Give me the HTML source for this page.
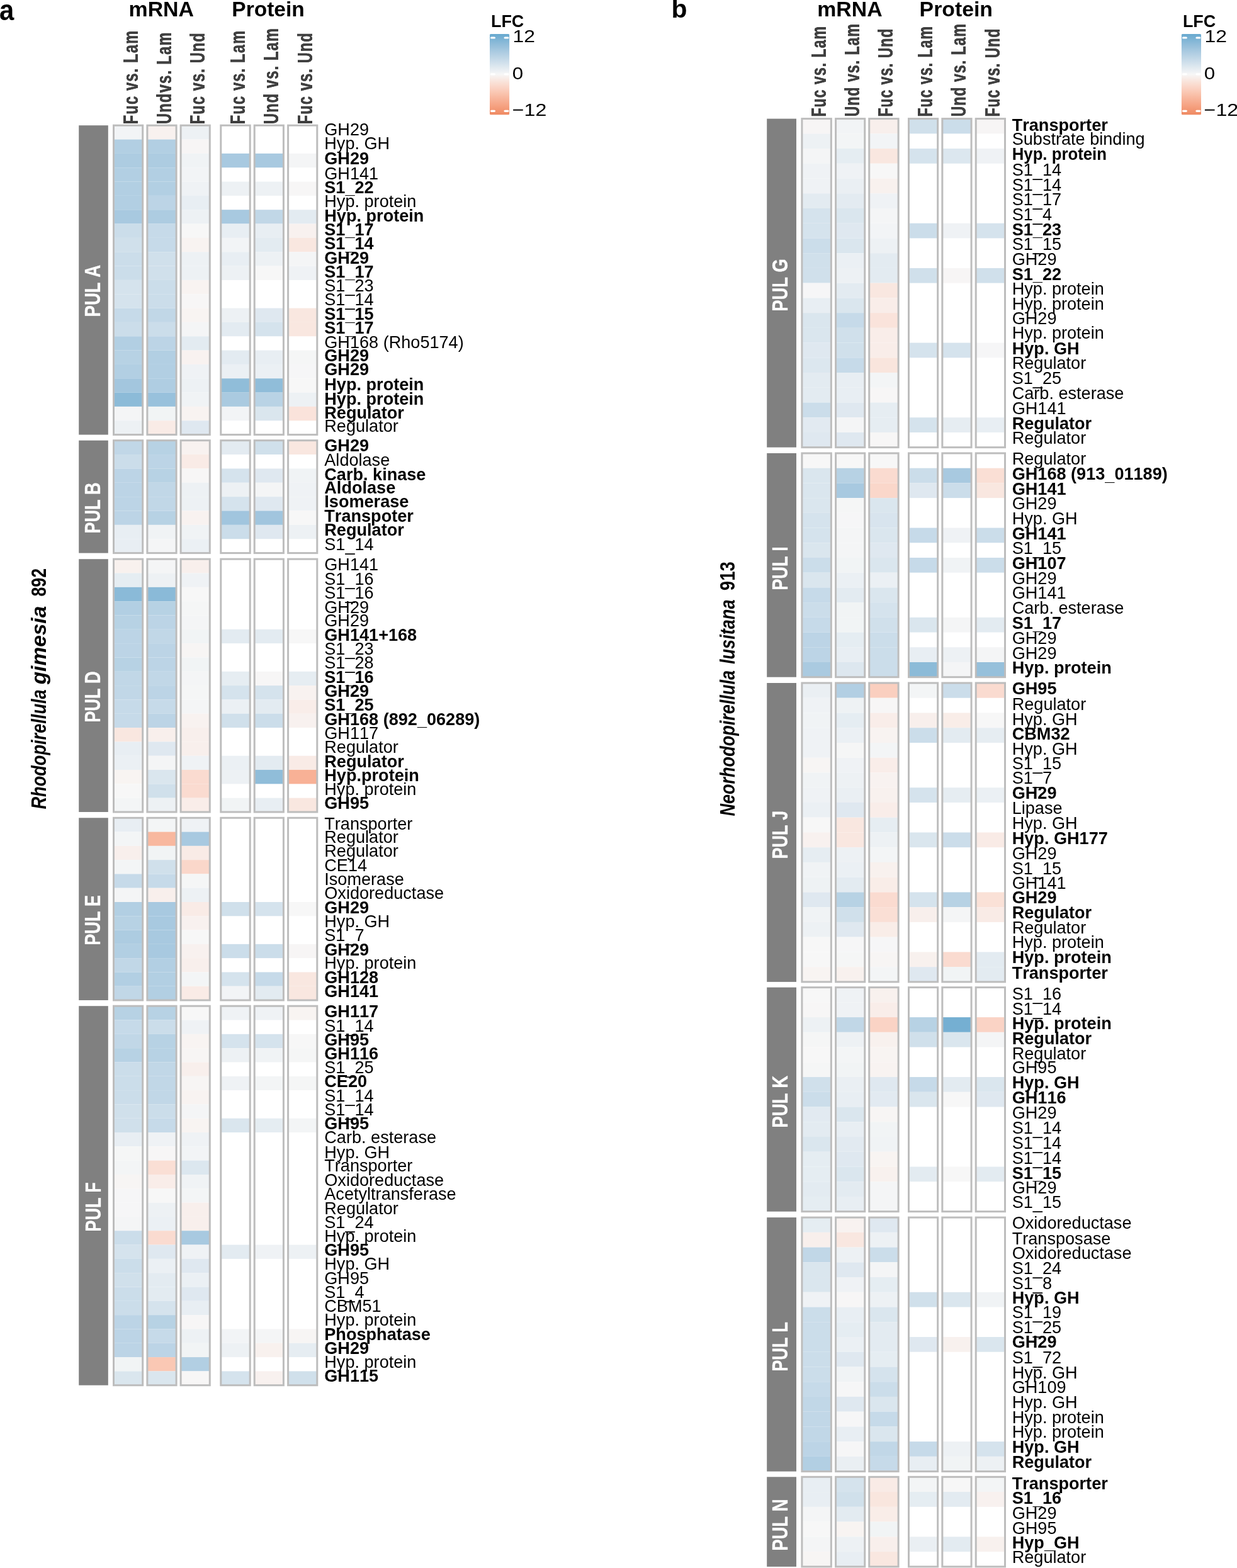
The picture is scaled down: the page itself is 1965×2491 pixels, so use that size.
<!DOCTYPE html>
<html lang="en">
<head>
<meta charset="utf-8">
<title>PUL expression heatmaps</title>
<style>
html,body{margin:0;padding:0;background:#fff;}
body{width:1965px;height:2491px;overflow:hidden;font-family:"Liberation Sans",Arial,sans-serif;}
svg{display:block;}
svg text{font-kerning:none;}
</style>
</head>
<body>
<svg width="1965" height="2491" viewBox="0 0 1965 2491" font-family="'Liberation Sans', Arial, sans-serif">
<defs><linearGradient id="lg" x1="0" y1="0" x2="0" y2="1">
<stop offset="0%" stop-color="#67a9cf"/>
<stop offset="4.17%" stop-color="#75afd2"/>
<stop offset="8.33%" stop-color="#82b6d6"/>
<stop offset="12.5%" stop-color="#8fbcd9"/>
<stop offset="16.67%" stop-color="#9bc2dc"/>
<stop offset="20.83%" stop-color="#a7c9e0"/>
<stop offset="25%" stop-color="#b3cfe3"/>
<stop offset="29.17%" stop-color="#bed6e6"/>
<stop offset="33.33%" stop-color="#cadcea"/>
<stop offset="37.5%" stop-color="#d5e3ed"/>
<stop offset="41.67%" stop-color="#e1eaf0"/>
<stop offset="45.83%" stop-color="#ecf0f4"/>
<stop offset="50%" stop-color="#f7f7f7"/>
<stop offset="54.17%" stop-color="#f8eeea"/>
<stop offset="58.33%" stop-color="#f9e5dd"/>
<stop offset="62.5%" stop-color="#fadcd0"/>
<stop offset="66.67%" stop-color="#fad3c4"/>
<stop offset="70.83%" stop-color="#facab7"/>
<stop offset="75%" stop-color="#f9c1aa"/>
<stop offset="79.17%" stop-color="#f8b79e"/>
<stop offset="83.33%" stop-color="#f7ae92"/>
<stop offset="87.5%" stop-color="#f6a586"/>
<stop offset="91.67%" stop-color="#f49c7a"/>
<stop offset="95.83%" stop-color="#f1936e"/>
<stop offset="100%" stop-color="#ef8a62"/>
</linearGradient></defs>
<rect x="0" y="0" width="1965" height="2491" fill="#fff"/>
<g>
<rect x="125.2" y="199.2" width="46.6" height="491.4" fill="#808080"/>
<text transform="translate(159 503.46) rotate(-90) scale(0.7902 1)" font-size="34.9" fill="#fff" stroke="#fff" stroke-width="0.3" xml:space="preserve"><tspan font-weight="bold">PUL A</tspan></text>
<g>
<rect x="180.5" y="199.2" width="46.2" height="491.4" fill="#fff"/>
<rect x="180.5" y="199.2" width="46.2" height="22.34" fill="#f2f4f6"/>
<rect x="180.5" y="221.54" width="46.2" height="22.34" fill="#b2cfe3"/>
<rect x="180.5" y="243.87" width="46.2" height="22.34" fill="#adcce1"/>
<rect x="180.5" y="266.21" width="46.2" height="22.34" fill="#b2cfe3"/>
<rect x="180.5" y="288.55" width="46.2" height="22.34" fill="#b2cfe3"/>
<rect x="180.5" y="310.88" width="46.2" height="22.34" fill="#b2cfe3"/>
<rect x="180.5" y="333.22" width="46.2" height="22.34" fill="#a8c9e0"/>
<rect x="180.5" y="355.55" width="46.2" height="22.34" fill="#cbddea"/>
<rect x="180.5" y="377.89" width="46.2" height="22.34" fill="#d0e0eb"/>
<rect x="180.5" y="400.23" width="46.2" height="22.34" fill="#cbddea"/>
<rect x="180.5" y="422.56" width="46.2" height="22.34" fill="#cbddea"/>
<rect x="180.5" y="444.9" width="46.2" height="22.34" fill="#d5e3ed"/>
<rect x="180.5" y="467.24" width="46.2" height="22.34" fill="#d5e3ed"/>
<rect x="180.5" y="489.57" width="46.2" height="22.34" fill="#c6dae9"/>
<rect x="180.5" y="511.91" width="46.2" height="22.34" fill="#cbddea"/>
<rect x="180.5" y="534.25" width="46.2" height="22.34" fill="#b2cfe3"/>
<rect x="180.5" y="556.58" width="46.2" height="22.34" fill="#b7d2e4"/>
<rect x="180.5" y="578.92" width="46.2" height="22.34" fill="#b2cfe3"/>
<rect x="180.5" y="601.25" width="46.2" height="22.34" fill="#a3c6de"/>
<rect x="180.5" y="623.59" width="46.2" height="22.34" fill="#8cbbd8"/>
<rect x="180.5" y="645.93" width="46.2" height="22.34" fill="#f4f5f6"/>
<rect x="180.5" y="668.26" width="46.2" height="22.34" fill="#edf1f4"/>
<rect x="180.5" y="199.2" width="46.2" height="491.4" fill="none" stroke="#bdbdbd" stroke-width="3.0"/>
</g>
<g>
<rect x="233.9" y="199.2" width="46.2" height="491.4" fill="#fff"/>
<rect x="233.9" y="199.2" width="46.2" height="22.34" fill="#f8f1ef"/>
<rect x="233.9" y="221.54" width="46.2" height="22.34" fill="#b2cfe3"/>
<rect x="233.9" y="243.87" width="46.2" height="22.34" fill="#adcce1"/>
<rect x="233.9" y="266.21" width="46.2" height="22.34" fill="#b2cfe3"/>
<rect x="233.9" y="288.55" width="46.2" height="22.34" fill="#b2cfe3"/>
<rect x="233.9" y="310.88" width="46.2" height="22.34" fill="#bcd4e6"/>
<rect x="233.9" y="333.22" width="46.2" height="22.34" fill="#adcce1"/>
<rect x="233.9" y="355.55" width="46.2" height="22.34" fill="#c6dae9"/>
<rect x="233.9" y="377.89" width="46.2" height="22.34" fill="#c6dae9"/>
<rect x="233.9" y="400.23" width="46.2" height="22.34" fill="#d0e0eb"/>
<rect x="233.9" y="422.56" width="46.2" height="22.34" fill="#d0e0eb"/>
<rect x="233.9" y="444.9" width="46.2" height="22.34" fill="#cbddea"/>
<rect x="233.9" y="467.24" width="46.2" height="22.34" fill="#cbddea"/>
<rect x="233.9" y="489.57" width="46.2" height="22.34" fill="#c1d7e7"/>
<rect x="233.9" y="511.91" width="46.2" height="22.34" fill="#cbddea"/>
<rect x="233.9" y="534.25" width="46.2" height="22.34" fill="#bcd4e6"/>
<rect x="233.9" y="556.58" width="46.2" height="22.34" fill="#b2cfe3"/>
<rect x="233.9" y="578.92" width="46.2" height="22.34" fill="#b2cfe3"/>
<rect x="233.9" y="601.25" width="46.2" height="22.34" fill="#afcde2"/>
<rect x="233.9" y="623.59" width="46.2" height="22.34" fill="#98c1dc"/>
<rect x="233.9" y="645.93" width="46.2" height="22.34" fill="#f1f4f5"/>
<rect x="233.9" y="668.26" width="46.2" height="22.34" fill="#f9ebe6"/>
<rect x="233.9" y="199.2" width="46.2" height="491.4" fill="none" stroke="#bdbdbd" stroke-width="3.0"/>
</g>
<g>
<rect x="287.1" y="199.2" width="46.2" height="491.4" fill="#fff"/>
<rect x="287.1" y="199.2" width="46.2" height="22.34" fill="#edf1f4"/>
<rect x="287.1" y="221.54" width="46.2" height="22.34" fill="#f7f5f5"/>
<rect x="287.1" y="243.87" width="46.2" height="22.34" fill="#f0f3f5"/>
<rect x="287.1" y="266.21" width="46.2" height="22.34" fill="#f2f4f6"/>
<rect x="287.1" y="288.55" width="46.2" height="22.34" fill="#eff2f5"/>
<rect x="287.1" y="310.88" width="46.2" height="22.34" fill="#e8eef3"/>
<rect x="287.1" y="333.22" width="46.2" height="22.34" fill="#edf1f4"/>
<rect x="287.1" y="355.55" width="46.2" height="22.34" fill="#f7f7f7"/>
<rect x="287.1" y="377.89" width="46.2" height="22.34" fill="#f8f3f1"/>
<rect x="287.1" y="400.23" width="46.2" height="22.34" fill="#edf1f4"/>
<rect x="287.1" y="422.56" width="46.2" height="22.34" fill="#edf1f4"/>
<rect x="287.1" y="444.9" width="46.2" height="22.34" fill="#f8f3f1"/>
<rect x="287.1" y="467.24" width="46.2" height="22.34" fill="#f7f6f6"/>
<rect x="287.1" y="489.57" width="46.2" height="22.34" fill="#f8f4f2"/>
<rect x="287.1" y="511.91" width="46.2" height="22.34" fill="#f4f5f6"/>
<rect x="287.1" y="534.25" width="46.2" height="22.34" fill="#e3ebf1"/>
<rect x="287.1" y="556.58" width="46.2" height="22.34" fill="#f8f2f0"/>
<rect x="287.1" y="578.92" width="46.2" height="22.34" fill="#eff2f5"/>
<rect x="287.1" y="601.25" width="46.2" height="22.34" fill="#edf1f4"/>
<rect x="287.1" y="623.59" width="46.2" height="22.34" fill="#f0f3f5"/>
<rect x="287.1" y="645.93" width="46.2" height="22.34" fill="#f8f3f1"/>
<rect x="287.1" y="668.26" width="46.2" height="22.34" fill="#dfe8f0"/>
<rect x="287.1" y="199.2" width="46.2" height="491.4" fill="none" stroke="#bdbdbd" stroke-width="3.0"/>
</g>
<g>
<rect x="350.8" y="199.2" width="46.4" height="491.4" fill="#fff"/>
<rect x="350.8" y="243.87" width="46.4" height="22.34" fill="#a8c9e0"/>
<rect x="350.8" y="288.55" width="46.4" height="22.34" fill="#edf1f4"/>
<rect x="350.8" y="333.22" width="46.4" height="22.34" fill="#a8c9e0"/>
<rect x="350.8" y="355.55" width="46.4" height="22.34" fill="#e8eef3"/>
<rect x="350.8" y="377.89" width="46.4" height="22.34" fill="#f2f4f6"/>
<rect x="350.8" y="400.23" width="46.4" height="22.34" fill="#e8eef3"/>
<rect x="350.8" y="422.56" width="46.4" height="22.34" fill="#edf1f4"/>
<rect x="350.8" y="489.57" width="46.4" height="22.34" fill="#edf1f4"/>
<rect x="350.8" y="511.91" width="46.4" height="22.34" fill="#e3ebf1"/>
<rect x="350.8" y="556.58" width="46.4" height="22.34" fill="#e3ebf1"/>
<rect x="350.8" y="578.92" width="46.4" height="22.34" fill="#ebf0f4"/>
<rect x="350.8" y="601.25" width="46.4" height="22.34" fill="#90bdd9"/>
<rect x="350.8" y="623.59" width="46.4" height="22.34" fill="#aacae0"/>
<rect x="350.8" y="645.93" width="46.4" height="22.34" fill="#f2f4f6"/>
<rect x="350.8" y="199.2" width="46.4" height="491.4" fill="none" stroke="#bdbdbd" stroke-width="3.0"/>
</g>
<g>
<rect x="404.2" y="199.2" width="46.2" height="491.4" fill="#fff"/>
<rect x="404.2" y="243.87" width="46.2" height="22.34" fill="#a8c9e0"/>
<rect x="404.2" y="288.55" width="46.2" height="22.34" fill="#edf1f4"/>
<rect x="404.2" y="333.22" width="46.2" height="22.34" fill="#c1d7e7"/>
<rect x="404.2" y="355.55" width="46.2" height="22.34" fill="#e8eef3"/>
<rect x="404.2" y="377.89" width="46.2" height="22.34" fill="#e3ebf1"/>
<rect x="404.2" y="400.23" width="46.2" height="22.34" fill="#edf1f4"/>
<rect x="404.2" y="422.56" width="46.2" height="22.34" fill="#f7f7f7"/>
<rect x="404.2" y="489.57" width="46.2" height="22.34" fill="#dfe8f0"/>
<rect x="404.2" y="511.91" width="46.2" height="22.34" fill="#d5e3ed"/>
<rect x="404.2" y="556.58" width="46.2" height="22.34" fill="#e8eef3"/>
<rect x="404.2" y="578.92" width="46.2" height="22.34" fill="#ebf0f4"/>
<rect x="404.2" y="601.25" width="46.2" height="22.34" fill="#90bdd9"/>
<rect x="404.2" y="623.59" width="46.2" height="22.34" fill="#b9d3e5"/>
<rect x="404.2" y="645.93" width="46.2" height="22.34" fill="#dae6ee"/>
<rect x="404.2" y="199.2" width="46.2" height="491.4" fill="none" stroke="#bdbdbd" stroke-width="3.0"/>
</g>
<g>
<rect x="457.6" y="199.2" width="46.2" height="491.4" fill="#fff"/>
<rect x="457.6" y="243.87" width="46.2" height="22.34" fill="#f4f5f6"/>
<rect x="457.6" y="288.55" width="46.2" height="22.34" fill="#f7f6f6"/>
<rect x="457.6" y="333.22" width="46.2" height="22.34" fill="#e3ebf1"/>
<rect x="457.6" y="355.55" width="46.2" height="22.34" fill="#f8f1ef"/>
<rect x="457.6" y="377.89" width="46.2" height="22.34" fill="#f9e7e0"/>
<rect x="457.6" y="400.23" width="46.2" height="22.34" fill="#f4f5f6"/>
<rect x="457.6" y="422.56" width="46.2" height="22.34" fill="#eff2f5"/>
<rect x="457.6" y="489.57" width="46.2" height="22.34" fill="#f9e7e0"/>
<rect x="457.6" y="511.91" width="46.2" height="22.34" fill="#f9e7e0"/>
<rect x="457.6" y="556.58" width="46.2" height="22.34" fill="#f5f6f6"/>
<rect x="457.6" y="578.92" width="46.2" height="22.34" fill="#f6f6f7"/>
<rect x="457.6" y="601.25" width="46.2" height="22.34" fill="#f7f7f7"/>
<rect x="457.6" y="623.59" width="46.2" height="22.34" fill="#edf1f4"/>
<rect x="457.6" y="645.93" width="46.2" height="22.34" fill="#fae3db"/>
<rect x="457.6" y="199.2" width="46.2" height="491.4" fill="none" stroke="#bdbdbd" stroke-width="3.0"/>
</g>
</g>
<g>
<rect x="125.2" y="699.7" width="46.6" height="178.9" fill="#808080"/>
<text transform="translate(159 847.52) rotate(-90) scale(0.7737 1)" font-size="34.9" fill="#fff" stroke="#fff" stroke-width="0.3" xml:space="preserve"><tspan font-weight="bold">PUL B</tspan></text>
<g>
<rect x="180.5" y="699.7" width="46.2" height="178.9" fill="#fff"/>
<rect x="180.5" y="699.7" width="46.2" height="22.36" fill="#c1d7e7"/>
<rect x="180.5" y="722.06" width="46.2" height="22.36" fill="#cbddea"/>
<rect x="180.5" y="744.43" width="46.2" height="22.36" fill="#bcd4e6"/>
<rect x="180.5" y="766.79" width="46.2" height="22.36" fill="#bcd4e6"/>
<rect x="180.5" y="789.15" width="46.2" height="22.36" fill="#bcd4e6"/>
<rect x="180.5" y="811.51" width="46.2" height="22.36" fill="#bcd4e6"/>
<rect x="180.5" y="833.88" width="46.2" height="22.36" fill="#e8eef3"/>
<rect x="180.5" y="856.24" width="46.2" height="22.36" fill="#e8eef3"/>
<rect x="180.5" y="699.7" width="46.2" height="178.9" fill="none" stroke="#bdbdbd" stroke-width="3.0"/>
</g>
<g>
<rect x="233.9" y="699.7" width="46.2" height="178.9" fill="#fff"/>
<rect x="233.9" y="699.7" width="46.2" height="22.36" fill="#b7d2e4"/>
<rect x="233.9" y="722.06" width="46.2" height="22.36" fill="#bcd4e6"/>
<rect x="233.9" y="744.43" width="46.2" height="22.36" fill="#b7d2e4"/>
<rect x="233.9" y="766.79" width="46.2" height="22.36" fill="#c1d7e7"/>
<rect x="233.9" y="789.15" width="46.2" height="22.36" fill="#c1d7e7"/>
<rect x="233.9" y="811.51" width="46.2" height="22.36" fill="#b7d2e4"/>
<rect x="233.9" y="833.88" width="46.2" height="22.36" fill="#f0f3f5"/>
<rect x="233.9" y="856.24" width="46.2" height="22.36" fill="#f4f5f6"/>
<rect x="233.9" y="699.7" width="46.2" height="178.9" fill="none" stroke="#bdbdbd" stroke-width="3.0"/>
</g>
<g>
<rect x="287.1" y="699.7" width="46.2" height="178.9" fill="#fff"/>
<rect x="287.1" y="699.7" width="46.2" height="22.36" fill="#f8f2f0"/>
<rect x="287.1" y="722.06" width="46.2" height="22.36" fill="#f9ebe6"/>
<rect x="287.1" y="744.43" width="46.2" height="22.36" fill="#f7f6f6"/>
<rect x="287.1" y="766.79" width="46.2" height="22.36" fill="#edf1f4"/>
<rect x="287.1" y="789.15" width="46.2" height="22.36" fill="#edf1f4"/>
<rect x="287.1" y="811.51" width="46.2" height="22.36" fill="#f8f2f0"/>
<rect x="287.1" y="833.88" width="46.2" height="22.36" fill="#f0f3f5"/>
<rect x="287.1" y="856.24" width="46.2" height="22.36" fill="#ebf0f4"/>
<rect x="287.1" y="699.7" width="46.2" height="178.9" fill="none" stroke="#bdbdbd" stroke-width="3.0"/>
</g>
<g>
<rect x="350.8" y="699.7" width="46.4" height="178.9" fill="#fff"/>
<rect x="350.8" y="699.7" width="46.4" height="22.36" fill="#e3ebf1"/>
<rect x="350.8" y="744.43" width="46.4" height="22.36" fill="#d5e3ed"/>
<rect x="350.8" y="766.79" width="46.4" height="22.36" fill="#edf1f4"/>
<rect x="350.8" y="789.15" width="46.4" height="22.36" fill="#d5e3ed"/>
<rect x="350.8" y="811.51" width="46.4" height="22.36" fill="#a1c5de"/>
<rect x="350.8" y="833.88" width="46.4" height="22.36" fill="#cbddea"/>
<rect x="350.8" y="699.7" width="46.4" height="178.9" fill="none" stroke="#bdbdbd" stroke-width="3.0"/>
</g>
<g>
<rect x="404.2" y="699.7" width="46.2" height="178.9" fill="#fff"/>
<rect x="404.2" y="699.7" width="46.2" height="22.36" fill="#d0e0eb"/>
<rect x="404.2" y="744.43" width="46.2" height="22.36" fill="#dfe8f0"/>
<rect x="404.2" y="766.79" width="46.2" height="22.36" fill="#f4f5f6"/>
<rect x="404.2" y="789.15" width="46.2" height="22.36" fill="#dfe8f0"/>
<rect x="404.2" y="811.51" width="46.2" height="22.36" fill="#a1c5de"/>
<rect x="404.2" y="833.88" width="46.2" height="22.36" fill="#dfe8f0"/>
<rect x="404.2" y="699.7" width="46.2" height="178.9" fill="none" stroke="#bdbdbd" stroke-width="3.0"/>
</g>
<g>
<rect x="457.6" y="699.7" width="46.2" height="178.9" fill="#fff"/>
<rect x="457.6" y="699.7" width="46.2" height="22.36" fill="#f9e7e0"/>
<rect x="457.6" y="744.43" width="46.2" height="22.36" fill="#f0f3f5"/>
<rect x="457.6" y="766.79" width="46.2" height="22.36" fill="#eff2f5"/>
<rect x="457.6" y="789.15" width="46.2" height="22.36" fill="#eff2f5"/>
<rect x="457.6" y="811.51" width="46.2" height="22.36" fill="#f7f7f7"/>
<rect x="457.6" y="833.88" width="46.2" height="22.36" fill="#edf1f4"/>
<rect x="457.6" y="699.7" width="46.2" height="178.9" fill="none" stroke="#bdbdbd" stroke-width="3.0"/>
</g>
</g>
<g>
<rect x="125.2" y="888.2" width="46.6" height="401.8" fill="#808080"/>
<text transform="translate(159 1147.73) rotate(-90) scale(0.7781 1)" font-size="34.9" fill="#fff" stroke="#fff" stroke-width="0.3" xml:space="preserve"><tspan font-weight="bold">PUL D</tspan></text>
<g>
<rect x="180.5" y="888.2" width="46.2" height="401.8" fill="#fff"/>
<rect x="180.5" y="888.2" width="46.2" height="22.32" fill="#f8f1ee"/>
<rect x="180.5" y="910.52" width="46.2" height="22.32" fill="#e5edf2"/>
<rect x="180.5" y="932.84" width="46.2" height="22.32" fill="#8abad8"/>
<rect x="180.5" y="955.17" width="46.2" height="22.32" fill="#b2cfe3"/>
<rect x="180.5" y="977.49" width="46.2" height="22.32" fill="#b7d2e4"/>
<rect x="180.5" y="999.81" width="46.2" height="22.32" fill="#bcd4e6"/>
<rect x="180.5" y="1022.13" width="46.2" height="22.32" fill="#bcd4e6"/>
<rect x="180.5" y="1044.46" width="46.2" height="22.32" fill="#b7d2e4"/>
<rect x="180.5" y="1066.78" width="46.2" height="22.32" fill="#c1d7e7"/>
<rect x="180.5" y="1089.1" width="46.2" height="22.32" fill="#c1d7e7"/>
<rect x="180.5" y="1111.42" width="46.2" height="22.32" fill="#c6dae9"/>
<rect x="180.5" y="1133.74" width="46.2" height="22.32" fill="#c6dae9"/>
<rect x="180.5" y="1156.07" width="46.2" height="22.32" fill="#f9e7e0"/>
<rect x="180.5" y="1178.39" width="46.2" height="22.32" fill="#e8eef3"/>
<rect x="180.5" y="1200.71" width="46.2" height="22.32" fill="#ebf0f4"/>
<rect x="180.5" y="1223.03" width="46.2" height="22.32" fill="#f8f4f2"/>
<rect x="180.5" y="1245.36" width="46.2" height="22.32" fill="#f7f7f7"/>
<rect x="180.5" y="1267.68" width="46.2" height="22.32" fill="#f3f5f6"/>
<rect x="180.5" y="888.2" width="46.2" height="401.8" fill="none" stroke="#bdbdbd" stroke-width="3.0"/>
</g>
<g>
<rect x="233.9" y="888.2" width="46.2" height="401.8" fill="#fff"/>
<rect x="233.9" y="888.2" width="46.2" height="22.32" fill="#f4f5f6"/>
<rect x="233.9" y="910.52" width="46.2" height="22.32" fill="#edf1f4"/>
<rect x="233.9" y="932.84" width="46.2" height="22.32" fill="#8abad8"/>
<rect x="233.9" y="955.17" width="46.2" height="22.32" fill="#b7d2e4"/>
<rect x="233.9" y="977.49" width="46.2" height="22.32" fill="#bcd4e6"/>
<rect x="233.9" y="999.81" width="46.2" height="22.32" fill="#c1d7e7"/>
<rect x="233.9" y="1022.13" width="46.2" height="22.32" fill="#bcd4e6"/>
<rect x="233.9" y="1044.46" width="46.2" height="22.32" fill="#bcd4e6"/>
<rect x="233.9" y="1066.78" width="46.2" height="22.32" fill="#c1d7e7"/>
<rect x="233.9" y="1089.1" width="46.2" height="22.32" fill="#bcd4e6"/>
<rect x="233.9" y="1111.42" width="46.2" height="22.32" fill="#c6dae9"/>
<rect x="233.9" y="1133.74" width="46.2" height="22.32" fill="#bcd4e6"/>
<rect x="233.9" y="1156.07" width="46.2" height="22.32" fill="#f8efec"/>
<rect x="233.9" y="1178.39" width="46.2" height="22.32" fill="#dfe8f0"/>
<rect x="233.9" y="1200.71" width="46.2" height="22.32" fill="#f4f5f6"/>
<rect x="233.9" y="1223.03" width="46.2" height="22.32" fill="#dae6ee"/>
<rect x="233.9" y="1245.36" width="46.2" height="22.32" fill="#d0e0eb"/>
<rect x="233.9" y="1267.68" width="46.2" height="22.32" fill="#edf1f4"/>
<rect x="233.9" y="888.2" width="46.2" height="401.8" fill="none" stroke="#bdbdbd" stroke-width="3.0"/>
</g>
<g>
<rect x="287.1" y="888.2" width="46.2" height="401.8" fill="#fff"/>
<rect x="287.1" y="888.2" width="46.2" height="22.32" fill="#f8efec"/>
<rect x="287.1" y="910.52" width="46.2" height="22.32" fill="#eff2f5"/>
<rect x="287.1" y="932.84" width="46.2" height="22.32" fill="#f7f7f7"/>
<rect x="287.1" y="955.17" width="46.2" height="22.32" fill="#f5f6f6"/>
<rect x="287.1" y="977.49" width="46.2" height="22.32" fill="#f4f5f6"/>
<rect x="287.1" y="999.81" width="46.2" height="22.32" fill="#f1f4f5"/>
<rect x="287.1" y="1022.13" width="46.2" height="22.32" fill="#f7f5f4"/>
<rect x="287.1" y="1044.46" width="46.2" height="22.32" fill="#f1f4f5"/>
<rect x="287.1" y="1066.78" width="46.2" height="22.32" fill="#f4f5f6"/>
<rect x="287.1" y="1089.1" width="46.2" height="22.32" fill="#f5f6f6"/>
<rect x="287.1" y="1111.42" width="46.2" height="22.32" fill="#f4f5f6"/>
<rect x="287.1" y="1133.74" width="46.2" height="22.32" fill="#f8f2f0"/>
<rect x="287.1" y="1156.07" width="46.2" height="22.32" fill="#f8efec"/>
<rect x="287.1" y="1178.39" width="46.2" height="22.32" fill="#f8efec"/>
<rect x="287.1" y="1200.71" width="46.2" height="22.32" fill="#eff2f5"/>
<rect x="287.1" y="1223.03" width="46.2" height="22.32" fill="#fadbd0"/>
<rect x="287.1" y="1245.36" width="46.2" height="22.32" fill="#fadbd0"/>
<rect x="287.1" y="1267.68" width="46.2" height="22.32" fill="#f9ede9"/>
<rect x="287.1" y="888.2" width="46.2" height="401.8" fill="none" stroke="#bdbdbd" stroke-width="3.0"/>
</g>
<g>
<rect x="350.8" y="888.2" width="46.4" height="401.8" fill="#fff"/>
<rect x="350.8" y="999.81" width="46.4" height="22.32" fill="#e3ebf1"/>
<rect x="350.8" y="1066.78" width="46.4" height="22.32" fill="#e6edf2"/>
<rect x="350.8" y="1089.1" width="46.4" height="22.32" fill="#d5e3ed"/>
<rect x="350.8" y="1111.42" width="46.4" height="22.32" fill="#ebf0f4"/>
<rect x="350.8" y="1133.74" width="46.4" height="22.32" fill="#d0e0eb"/>
<rect x="350.8" y="1200.71" width="46.4" height="22.32" fill="#ebf0f4"/>
<rect x="350.8" y="1223.03" width="46.4" height="22.32" fill="#edf1f4"/>
<rect x="350.8" y="1267.68" width="46.4" height="22.32" fill="#f1f4f5"/>
<rect x="350.8" y="888.2" width="46.4" height="401.8" fill="none" stroke="#bdbdbd" stroke-width="3.0"/>
</g>
<g>
<rect x="404.2" y="888.2" width="46.2" height="401.8" fill="#fff"/>
<rect x="404.2" y="999.81" width="46.2" height="22.32" fill="#e3ebf1"/>
<rect x="404.2" y="1066.78" width="46.2" height="22.32" fill="#f7f6f6"/>
<rect x="404.2" y="1089.1" width="46.2" height="22.32" fill="#d5e3ed"/>
<rect x="404.2" y="1111.42" width="46.2" height="22.32" fill="#e3ebf1"/>
<rect x="404.2" y="1133.74" width="46.2" height="22.32" fill="#cbddea"/>
<rect x="404.2" y="1200.71" width="46.2" height="22.32" fill="#e3ebf1"/>
<rect x="404.2" y="1223.03" width="46.2" height="22.32" fill="#90bdd9"/>
<rect x="404.2" y="1267.68" width="46.2" height="22.32" fill="#e8eef3"/>
<rect x="404.2" y="888.2" width="46.2" height="401.8" fill="none" stroke="#bdbdbd" stroke-width="3.0"/>
</g>
<g>
<rect x="457.6" y="888.2" width="46.2" height="401.8" fill="#fff"/>
<rect x="457.6" y="999.81" width="46.2" height="22.32" fill="#f7f7f7"/>
<rect x="457.6" y="1066.78" width="46.2" height="22.32" fill="#e6edf2"/>
<rect x="457.6" y="1089.1" width="46.2" height="22.32" fill="#f8f2f0"/>
<rect x="457.6" y="1111.42" width="46.2" height="22.32" fill="#f9ede9"/>
<rect x="457.6" y="1133.74" width="46.2" height="22.32" fill="#f8f1ef"/>
<rect x="457.6" y="1200.71" width="46.2" height="22.32" fill="#f9ebe6"/>
<rect x="457.6" y="1223.03" width="46.2" height="22.32" fill="#f8b196"/>
<rect x="457.6" y="1267.68" width="46.2" height="22.32" fill="#f9e7e0"/>
<rect x="457.6" y="888.2" width="46.2" height="401.8" fill="none" stroke="#bdbdbd" stroke-width="3.0"/>
</g>
</g>
<g>
<rect x="125.2" y="1299.3" width="46.6" height="289.7" fill="#808080"/>
<text transform="translate(159 1501.73) rotate(-90) scale(0.7763 1)" font-size="34.9" fill="#fff" stroke="#fff" stroke-width="0.3" xml:space="preserve"><tspan font-weight="bold">PUL E</tspan></text>
<g>
<rect x="180.5" y="1299.3" width="46.2" height="289.7" fill="#fff"/>
<rect x="180.5" y="1299.3" width="46.2" height="22.28" fill="#e8eef3"/>
<rect x="180.5" y="1321.58" width="46.2" height="22.28" fill="#f3f5f6"/>
<rect x="180.5" y="1343.87" width="46.2" height="22.28" fill="#f8efec"/>
<rect x="180.5" y="1366.15" width="46.2" height="22.28" fill="#f3f5f6"/>
<rect x="180.5" y="1388.44" width="46.2" height="22.28" fill="#c6dae9"/>
<rect x="180.5" y="1410.72" width="46.2" height="22.28" fill="#f4f5f6"/>
<rect x="180.5" y="1433.01" width="46.2" height="22.28" fill="#b2cfe3"/>
<rect x="180.5" y="1455.29" width="46.2" height="22.28" fill="#b7d2e4"/>
<rect x="180.5" y="1477.58" width="46.2" height="22.28" fill="#adcce1"/>
<rect x="180.5" y="1499.86" width="46.2" height="22.28" fill="#b2cfe3"/>
<rect x="180.5" y="1522.15" width="46.2" height="22.28" fill="#c1d7e7"/>
<rect x="180.5" y="1544.43" width="46.2" height="22.28" fill="#b2cfe3"/>
<rect x="180.5" y="1566.72" width="46.2" height="22.28" fill="#c1d7e7"/>
<rect x="180.5" y="1299.3" width="46.2" height="289.7" fill="none" stroke="#bdbdbd" stroke-width="3.0"/>
</g>
<g>
<rect x="233.9" y="1299.3" width="46.2" height="289.7" fill="#fff"/>
<rect x="233.9" y="1299.3" width="46.2" height="22.28" fill="#f3f5f6"/>
<rect x="233.9" y="1321.58" width="46.2" height="22.28" fill="#f8b89f"/>
<rect x="233.9" y="1343.87" width="46.2" height="22.28" fill="#f1f4f5"/>
<rect x="233.9" y="1366.15" width="46.2" height="22.28" fill="#d0e0eb"/>
<rect x="233.9" y="1388.44" width="46.2" height="22.28" fill="#c6dae9"/>
<rect x="233.9" y="1410.72" width="46.2" height="22.28" fill="#f8efec"/>
<rect x="233.9" y="1433.01" width="46.2" height="22.28" fill="#a8c9e0"/>
<rect x="233.9" y="1455.29" width="46.2" height="22.28" fill="#a8c9e0"/>
<rect x="233.9" y="1477.58" width="46.2" height="22.28" fill="#a8c9e0"/>
<rect x="233.9" y="1499.86" width="46.2" height="22.28" fill="#a8c9e0"/>
<rect x="233.9" y="1522.15" width="46.2" height="22.28" fill="#b2cfe3"/>
<rect x="233.9" y="1544.43" width="46.2" height="22.28" fill="#b2cfe3"/>
<rect x="233.9" y="1566.72" width="46.2" height="22.28" fill="#b2cfe3"/>
<rect x="233.9" y="1299.3" width="46.2" height="289.7" fill="none" stroke="#bdbdbd" stroke-width="3.0"/>
</g>
<g>
<rect x="287.1" y="1299.3" width="46.2" height="289.7" fill="#fff"/>
<rect x="287.1" y="1299.3" width="46.2" height="22.28" fill="#eff2f5"/>
<rect x="287.1" y="1321.58" width="46.2" height="22.28" fill="#a8c9e0"/>
<rect x="287.1" y="1343.87" width="46.2" height="22.28" fill="#f9ebe6"/>
<rect x="287.1" y="1366.15" width="46.2" height="22.28" fill="#fad7ca"/>
<rect x="287.1" y="1388.44" width="46.2" height="22.28" fill="#f5f6f6"/>
<rect x="287.1" y="1410.72" width="46.2" height="22.28" fill="#edf1f4"/>
<rect x="287.1" y="1433.01" width="46.2" height="22.28" fill="#f9ebe6"/>
<rect x="287.1" y="1455.29" width="46.2" height="22.28" fill="#f8f1ef"/>
<rect x="287.1" y="1477.58" width="46.2" height="22.28" fill="#f7f7f7"/>
<rect x="287.1" y="1499.86" width="46.2" height="22.28" fill="#f8f1ef"/>
<rect x="287.1" y="1522.15" width="46.2" height="22.28" fill="#f8efec"/>
<rect x="287.1" y="1544.43" width="46.2" height="22.28" fill="#f3f5f6"/>
<rect x="287.1" y="1566.72" width="46.2" height="22.28" fill="#f9ebe6"/>
<rect x="287.1" y="1299.3" width="46.2" height="289.7" fill="none" stroke="#bdbdbd" stroke-width="3.0"/>
</g>
<g>
<rect x="350.8" y="1299.3" width="46.4" height="289.7" fill="#fff"/>
<rect x="350.8" y="1433.01" width="46.4" height="22.28" fill="#d0e0eb"/>
<rect x="350.8" y="1499.86" width="46.4" height="22.28" fill="#cbddea"/>
<rect x="350.8" y="1544.43" width="46.4" height="22.28" fill="#d5e3ed"/>
<rect x="350.8" y="1566.72" width="46.4" height="22.28" fill="#f2f4f6"/>
<rect x="350.8" y="1299.3" width="46.4" height="289.7" fill="none" stroke="#bdbdbd" stroke-width="3.0"/>
</g>
<g>
<rect x="404.2" y="1299.3" width="46.2" height="289.7" fill="#fff"/>
<rect x="404.2" y="1433.01" width="46.2" height="22.28" fill="#d5e3ed"/>
<rect x="404.2" y="1499.86" width="46.2" height="22.28" fill="#cbddea"/>
<rect x="404.2" y="1544.43" width="46.2" height="22.28" fill="#c6dae9"/>
<rect x="404.2" y="1566.72" width="46.2" height="22.28" fill="#e3ebf1"/>
<rect x="404.2" y="1299.3" width="46.2" height="289.7" fill="none" stroke="#bdbdbd" stroke-width="3.0"/>
</g>
<g>
<rect x="457.6" y="1299.3" width="46.2" height="289.7" fill="#fff"/>
<rect x="457.6" y="1433.01" width="46.2" height="22.28" fill="#f7f7f7"/>
<rect x="457.6" y="1499.86" width="46.2" height="22.28" fill="#f7f5f5"/>
<rect x="457.6" y="1544.43" width="46.2" height="22.28" fill="#f9e7e0"/>
<rect x="457.6" y="1566.72" width="46.2" height="22.28" fill="#f9e7e0"/>
<rect x="457.6" y="1299.3" width="46.2" height="289.7" fill="none" stroke="#bdbdbd" stroke-width="3.0"/>
</g>
</g>
<g>
<rect x="125.2" y="1598.2" width="46.6" height="602.5" fill="#808080"/>
<text transform="translate(159.9 1956.74) rotate(-90) scale(0.7796 1)" font-size="34.9" fill="#fff" stroke="#fff" stroke-width="0.3" xml:space="preserve"><tspan font-weight="bold">PUL F</tspan></text>
<g>
<rect x="180.5" y="1598.2" width="46.2" height="602.5" fill="#fff"/>
<rect x="180.5" y="1598.2" width="46.2" height="22.31" fill="#b7d2e4"/>
<rect x="180.5" y="1620.51" width="46.2" height="22.31" fill="#c6dae9"/>
<rect x="180.5" y="1642.83" width="46.2" height="22.31" fill="#c1d7e7"/>
<rect x="180.5" y="1665.14" width="46.2" height="22.31" fill="#b7d2e4"/>
<rect x="180.5" y="1687.46" width="46.2" height="22.31" fill="#cbddea"/>
<rect x="180.5" y="1709.77" width="46.2" height="22.31" fill="#cbddea"/>
<rect x="180.5" y="1732.09" width="46.2" height="22.31" fill="#cbddea"/>
<rect x="180.5" y="1754.4" width="46.2" height="22.31" fill="#d0e0eb"/>
<rect x="180.5" y="1776.72" width="46.2" height="22.31" fill="#d0e0eb"/>
<rect x="180.5" y="1799.03" width="46.2" height="22.31" fill="#e8eef3"/>
<rect x="180.5" y="1821.35" width="46.2" height="22.31" fill="#f5f6f6"/>
<rect x="180.5" y="1843.66" width="46.2" height="22.31" fill="#f3f5f6"/>
<rect x="180.5" y="1865.98" width="46.2" height="22.31" fill="#f7f5f4"/>
<rect x="180.5" y="1888.29" width="46.2" height="22.31" fill="#f6f6f7"/>
<rect x="180.5" y="1910.61" width="46.2" height="22.31" fill="#f6f6f7"/>
<rect x="180.5" y="1932.92" width="46.2" height="22.31" fill="#f4f5f6"/>
<rect x="180.5" y="1955.24" width="46.2" height="22.31" fill="#cbddea"/>
<rect x="180.5" y="1977.55" width="46.2" height="22.31" fill="#d5e3ed"/>
<rect x="180.5" y="1999.87" width="46.2" height="22.31" fill="#cbddea"/>
<rect x="180.5" y="2022.18" width="46.2" height="22.31" fill="#d0e0eb"/>
<rect x="180.5" y="2044.5" width="46.2" height="22.31" fill="#cbddea"/>
<rect x="180.5" y="2066.81" width="46.2" height="22.31" fill="#cbddea"/>
<rect x="180.5" y="2089.13" width="46.2" height="22.31" fill="#bcd4e6"/>
<rect x="180.5" y="2111.44" width="46.2" height="22.31" fill="#bcd4e6"/>
<rect x="180.5" y="2133.76" width="46.2" height="22.31" fill="#bcd4e6"/>
<rect x="180.5" y="2156.07" width="46.2" height="22.31" fill="#f1f4f5"/>
<rect x="180.5" y="2178.39" width="46.2" height="22.31" fill="#dae6ee"/>
<rect x="180.5" y="1598.2" width="46.2" height="602.5" fill="none" stroke="#bdbdbd" stroke-width="3.0"/>
</g>
<g>
<rect x="233.9" y="1598.2" width="46.2" height="602.5" fill="#fff"/>
<rect x="233.9" y="1598.2" width="46.2" height="22.31" fill="#b7d2e4"/>
<rect x="233.9" y="1620.51" width="46.2" height="22.31" fill="#cbddea"/>
<rect x="233.9" y="1642.83" width="46.2" height="22.31" fill="#b7d2e4"/>
<rect x="233.9" y="1665.14" width="46.2" height="22.31" fill="#b7d2e4"/>
<rect x="233.9" y="1687.46" width="46.2" height="22.31" fill="#c1d7e7"/>
<rect x="233.9" y="1709.77" width="46.2" height="22.31" fill="#c1d7e7"/>
<rect x="233.9" y="1732.09" width="46.2" height="22.31" fill="#c1d7e7"/>
<rect x="233.9" y="1754.4" width="46.2" height="22.31" fill="#cbddea"/>
<rect x="233.9" y="1776.72" width="46.2" height="22.31" fill="#c6dae9"/>
<rect x="233.9" y="1799.03" width="46.2" height="22.31" fill="#eff2f5"/>
<rect x="233.9" y="1821.35" width="46.2" height="22.31" fill="#f7f6f6"/>
<rect x="233.9" y="1843.66" width="46.2" height="22.31" fill="#fadfd5"/>
<rect x="233.9" y="1865.98" width="46.2" height="22.31" fill="#f9ede9"/>
<rect x="233.9" y="1888.29" width="46.2" height="22.31" fill="#f7f7f7"/>
<rect x="233.9" y="1910.61" width="46.2" height="22.31" fill="#edf1f4"/>
<rect x="233.9" y="1932.92" width="46.2" height="22.31" fill="#ebf0f4"/>
<rect x="233.9" y="1955.24" width="46.2" height="22.31" fill="#fadbd0"/>
<rect x="233.9" y="1977.55" width="46.2" height="22.31" fill="#dfe8f0"/>
<rect x="233.9" y="1999.87" width="46.2" height="22.31" fill="#ebf0f4"/>
<rect x="233.9" y="2022.18" width="46.2" height="22.31" fill="#e3ebf1"/>
<rect x="233.9" y="2044.5" width="46.2" height="22.31" fill="#e3ebf1"/>
<rect x="233.9" y="2066.81" width="46.2" height="22.31" fill="#d5e3ed"/>
<rect x="233.9" y="2089.13" width="46.2" height="22.31" fill="#b7d2e4"/>
<rect x="233.9" y="2111.44" width="46.2" height="22.31" fill="#c6dae9"/>
<rect x="233.9" y="2133.76" width="46.2" height="22.31" fill="#bcd4e6"/>
<rect x="233.9" y="2156.07" width="46.2" height="22.31" fill="#fac8b4"/>
<rect x="233.9" y="2178.39" width="46.2" height="22.31" fill="#dae6ee"/>
<rect x="233.9" y="1598.2" width="46.2" height="602.5" fill="none" stroke="#bdbdbd" stroke-width="3.0"/>
</g>
<g>
<rect x="287.1" y="1598.2" width="46.2" height="602.5" fill="#fff"/>
<rect x="287.1" y="1598.2" width="46.2" height="22.31" fill="#f7f7f7"/>
<rect x="287.1" y="1620.51" width="46.2" height="22.31" fill="#eff2f5"/>
<rect x="287.1" y="1642.83" width="46.2" height="22.31" fill="#f8f4f2"/>
<rect x="287.1" y="1665.14" width="46.2" height="22.31" fill="#f7f5f4"/>
<rect x="287.1" y="1687.46" width="46.2" height="22.31" fill="#f8efec"/>
<rect x="287.1" y="1709.77" width="46.2" height="22.31" fill="#f7f5f4"/>
<rect x="287.1" y="1732.09" width="46.2" height="22.31" fill="#f8f3f1"/>
<rect x="287.1" y="1754.4" width="46.2" height="22.31" fill="#f4f5f6"/>
<rect x="287.1" y="1776.72" width="46.2" height="22.31" fill="#f8f4f2"/>
<rect x="287.1" y="1799.03" width="46.2" height="22.31" fill="#eff2f5"/>
<rect x="287.1" y="1821.35" width="46.2" height="22.31" fill="#f2f4f6"/>
<rect x="287.1" y="1843.66" width="46.2" height="22.31" fill="#dce7ef"/>
<rect x="287.1" y="1865.98" width="46.2" height="22.31" fill="#f0f3f5"/>
<rect x="287.1" y="1888.29" width="46.2" height="22.31" fill="#f3f5f6"/>
<rect x="287.1" y="1910.61" width="46.2" height="22.31" fill="#f8efec"/>
<rect x="287.1" y="1932.92" width="46.2" height="22.31" fill="#f8efec"/>
<rect x="287.1" y="1955.24" width="46.2" height="22.31" fill="#a8c9e0"/>
<rect x="287.1" y="1977.55" width="46.2" height="22.31" fill="#eff2f5"/>
<rect x="287.1" y="1999.87" width="46.2" height="22.31" fill="#dfe8f0"/>
<rect x="287.1" y="2022.18" width="46.2" height="22.31" fill="#ebf0f4"/>
<rect x="287.1" y="2044.5" width="46.2" height="22.31" fill="#dfe8f0"/>
<rect x="287.1" y="2066.81" width="46.2" height="22.31" fill="#e8eef3"/>
<rect x="287.1" y="2089.13" width="46.2" height="22.31" fill="#f7f6f6"/>
<rect x="287.1" y="2111.44" width="46.2" height="22.31" fill="#edf1f4"/>
<rect x="287.1" y="2133.76" width="46.2" height="22.31" fill="#f1f4f5"/>
<rect x="287.1" y="2156.07" width="46.2" height="22.31" fill="#b2cfe3"/>
<rect x="287.1" y="2178.39" width="46.2" height="22.31" fill="#f7f6f6"/>
<rect x="287.1" y="1598.2" width="46.2" height="602.5" fill="none" stroke="#bdbdbd" stroke-width="3.0"/>
</g>
<g>
<rect x="350.8" y="1598.2" width="46.4" height="602.5" fill="#fff"/>
<rect x="350.8" y="1598.2" width="46.4" height="22.31" fill="#eff2f5"/>
<rect x="350.8" y="1642.83" width="46.4" height="22.31" fill="#d5e3ed"/>
<rect x="350.8" y="1665.14" width="46.4" height="22.31" fill="#edf1f4"/>
<rect x="350.8" y="1709.77" width="46.4" height="22.31" fill="#eff2f5"/>
<rect x="350.8" y="1776.72" width="46.4" height="22.31" fill="#dae6ee"/>
<rect x="350.8" y="1977.55" width="46.4" height="22.31" fill="#e3ebf1"/>
<rect x="350.8" y="2111.44" width="46.4" height="22.31" fill="#f2f4f6"/>
<rect x="350.8" y="2133.76" width="46.4" height="22.31" fill="#edf1f4"/>
<rect x="350.8" y="2178.39" width="46.4" height="22.31" fill="#d5e3ed"/>
<rect x="350.8" y="1598.2" width="46.4" height="602.5" fill="none" stroke="#bdbdbd" stroke-width="3.0"/>
</g>
<g>
<rect x="404.2" y="1598.2" width="46.2" height="602.5" fill="#fff"/>
<rect x="404.2" y="1598.2" width="46.2" height="22.31" fill="#eff2f5"/>
<rect x="404.2" y="1642.83" width="46.2" height="22.31" fill="#d5e3ed"/>
<rect x="404.2" y="1665.14" width="46.2" height="22.31" fill="#f0f3f5"/>
<rect x="404.2" y="1709.77" width="46.2" height="22.31" fill="#f3f5f6"/>
<rect x="404.2" y="1776.72" width="46.2" height="22.31" fill="#e5edf2"/>
<rect x="404.2" y="1977.55" width="46.2" height="22.31" fill="#eff2f5"/>
<rect x="404.2" y="2111.44" width="46.2" height="22.31" fill="#f4f5f6"/>
<rect x="404.2" y="2133.76" width="46.2" height="22.31" fill="#f8f1ee"/>
<rect x="404.2" y="2178.39" width="46.2" height="22.31" fill="#f8f1ef"/>
<rect x="404.2" y="1598.2" width="46.2" height="602.5" fill="none" stroke="#bdbdbd" stroke-width="3.0"/>
</g>
<g>
<rect x="457.6" y="1598.2" width="46.2" height="602.5" fill="#fff"/>
<rect x="457.6" y="1598.2" width="46.2" height="22.31" fill="#f8f4f2"/>
<rect x="457.6" y="1642.83" width="46.2" height="22.31" fill="#f7f7f7"/>
<rect x="457.6" y="1665.14" width="46.2" height="22.31" fill="#f5f6f6"/>
<rect x="457.6" y="1709.77" width="46.2" height="22.31" fill="#f5f6f6"/>
<rect x="457.6" y="1776.72" width="46.2" height="22.31" fill="#f3f5f6"/>
<rect x="457.6" y="1977.55" width="46.2" height="22.31" fill="#edf1f4"/>
<rect x="457.6" y="2111.44" width="46.2" height="22.31" fill="#f7f5f4"/>
<rect x="457.6" y="2133.76" width="46.2" height="22.31" fill="#e6edf2"/>
<rect x="457.6" y="2178.39" width="46.2" height="22.31" fill="#d0e0eb"/>
<rect x="457.6" y="1598.2" width="46.2" height="602.5" fill="none" stroke="#bdbdbd" stroke-width="3.0"/>
</g>
</g>
<g>
<text transform="translate(515.3 215)" font-size="27.1">GH29</text>
<text transform="translate(515.3 237.2)" font-size="27.1">Hyp. GH</text>
<text transform="translate(515.3 260.9)" font-size="27.1" font-weight="bold">GH29</text>
<text transform="translate(515.3 284.6)" font-size="27.1">GH141</text>
<text transform="translate(515.3 306.8)" font-size="27.1" font-weight="bold">S1<tspan dy="1.6">_</tspan><tspan dy="-1.6">22</tspan></text>
<text transform="translate(515.3 329)" font-size="27.1">Hyp. protein</text>
<text transform="translate(515.3 351.5)" font-size="27.1" font-weight="bold">Hyp. protein</text>
<text transform="translate(515.3 373.5)" font-size="27.1" font-weight="bold">S1<tspan dy="1.6">_</tspan><tspan dy="-1.6">17</tspan></text>
<text transform="translate(515.3 396.1)" font-size="27.1" font-weight="bold">S1<tspan dy="1.6">_</tspan><tspan dy="-1.6">14</tspan></text>
<text transform="translate(515.3 418.6)" font-size="27.1" font-weight="bold">GH29</text>
<text transform="translate(515.3 440.8)" font-size="27.1" font-weight="bold">S1<tspan dy="1.6">_</tspan><tspan dy="-1.6">17</tspan></text>
<text transform="translate(515.3 462.8)" font-size="27.1">S1<tspan dy="1.0">_</tspan><tspan dy="-1.0">23</tspan></text>
<text transform="translate(515.3 485.3)" font-size="27.1">S1<tspan dy="1.0">_</tspan><tspan dy="-1.0">14</tspan></text>
<text transform="translate(515.3 507.9)" font-size="27.1" font-weight="bold">S1<tspan dy="1.6">_</tspan><tspan dy="-1.6">15</tspan></text>
<text transform="translate(515.3 530.1)" font-size="27.1" font-weight="bold">S1<tspan dy="1.6">_</tspan><tspan dy="-1.6">17</tspan></text>
<text transform="translate(515.3 552.7)" font-size="27.1">GH168 (Rho5174)</text>
<text transform="translate(515.3 573.9)" font-size="27.1" font-weight="bold">GH29</text>
<text transform="translate(515.3 596.2)" font-size="27.1" font-weight="bold">GH29</text>
<text transform="translate(515.3 620.2)" font-size="27.1" font-weight="bold">Hyp. protein</text>
<text transform="translate(515.3 642.5)" font-size="27.1" font-weight="bold">Hyp. protein</text>
<text transform="translate(515.3 664.5)" font-size="27.1" font-weight="bold">Regulator</text>
<text transform="translate(515.3 685.5)" font-size="27.1">Regulator</text>
<text transform="translate(515.3 716.9)" font-size="27.1" font-weight="bold">GH29</text>
<text transform="translate(515.3 739.5)" font-size="27.1">Aldolase</text>
<text transform="translate(515.3 762.6)" font-size="27.1" font-weight="bold">Carb. kinase</text>
<text transform="translate(515.3 784.4)" font-size="27.1" font-weight="bold">Aldolase</text>
<text transform="translate(515.3 806.2)" font-size="27.1" font-weight="bold">Isomerase</text>
<text transform="translate(515.3 829.3)" font-size="27.1" font-weight="bold">Transpoter</text>
<text transform="translate(515.3 851.1)" font-size="27.1" font-weight="bold">Regulator</text>
<text transform="translate(515.3 873.5)" font-size="27.1">S1<tspan dy="1.0">_</tspan><tspan dy="-1.0">14</tspan></text>
<text transform="translate(515.3 906.4)" font-size="27.1">GH141</text>
<text transform="translate(515.3 928.7)" font-size="27.1">S1<tspan dy="1.0">_</tspan><tspan dy="-1.0">16</tspan></text>
<text transform="translate(515.3 950.7)" font-size="27.1">S1<tspan dy="1.0">_</tspan><tspan dy="-1.0">16</tspan></text>
<text transform="translate(515.3 973.6)" font-size="27.1">GH29</text>
<text transform="translate(515.3 995.4)" font-size="27.1">GH29</text>
<text transform="translate(515.3 1018)" font-size="27.1" font-weight="bold">GH141+168</text>
<text transform="translate(515.3 1040.3)" font-size="27.1">S1<tspan dy="1.0">_</tspan><tspan dy="-1.0">23</tspan></text>
<text transform="translate(515.3 1062.4)" font-size="27.1">S1<tspan dy="1.0">_</tspan><tspan dy="-1.0">28</tspan></text>
<text transform="translate(515.3 1085.2)" font-size="27.1" font-weight="bold">S1<tspan dy="1.6">_</tspan><tspan dy="-1.6">16</tspan></text>
<text transform="translate(515.3 1107.2)" font-size="27.1" font-weight="bold">GH29</text>
<text transform="translate(515.3 1129)" font-size="27.1" font-weight="bold">S1<tspan dy="1.6">_</tspan><tspan dy="-1.6">25</tspan></text>
<text transform="translate(515.3 1151.8)" font-size="27.1" font-weight="bold">GH168 (892<tspan dy="1.6">_</tspan><tspan dy="-1.6">06289)</tspan></text>
<text transform="translate(515.3 1173.6)" font-size="27.1">GH117</text>
<text transform="translate(515.3 1196.2)" font-size="27.1">Regulator</text>
<text transform="translate(515.3 1218.5)" font-size="27.1" font-weight="bold">Regulator</text>
<text transform="translate(515.3 1240.6)" font-size="27.1" font-weight="bold">Hyp.protein</text>
<text transform="translate(515.3 1262.9)" font-size="27.1">Hyp. protein</text>
<text transform="translate(515.3 1284.7)" font-size="27.1" font-weight="bold">GH95</text>
<text transform="translate(515.3 1317.8)" font-size="27.1">Transporter</text>
<text transform="translate(515.3 1338.8)" font-size="27.1">Regulator</text>
<text transform="translate(515.3 1361.4)" font-size="27.1">Regulator</text>
<text transform="translate(515.3 1383.7)" font-size="27.1">CE14</text>
<text transform="translate(515.3 1405.5)" font-size="27.1">Isomerase</text>
<text transform="translate(515.3 1428.1)" font-size="27.1">Oxidoreductase</text>
<text transform="translate(515.3 1450.5)" font-size="27.1" font-weight="bold">GH29</text>
<text transform="translate(515.3 1472.6)" font-size="27.1">Hyp. GH</text>
<text transform="translate(515.3 1495)" font-size="27.1">S1<tspan dy="1.0">_</tspan><tspan dy="-1.0">7</tspan></text>
<text transform="translate(515.3 1517.5)" font-size="27.1" font-weight="bold">GH29</text>
<text transform="translate(515.3 1539.1)" font-size="27.1">Hyp. protein</text>
<text transform="translate(515.3 1562.2)" font-size="27.1" font-weight="bold">GH128</text>
<text transform="translate(515.3 1584.2)" font-size="27.1" font-weight="bold">GH141</text>
<text transform="translate(515.3 1615.5)" font-size="27.1" font-weight="bold">GH117</text>
<text transform="translate(515.3 1638.7)" font-size="27.1">S1<tspan dy="1.0">_</tspan><tspan dy="-1.0">14</tspan></text>
<text transform="translate(515.3 1660.5)" font-size="27.1" font-weight="bold">GH95</text>
<text transform="translate(515.3 1683.1)" font-size="27.1" font-weight="bold">GH116</text>
<text transform="translate(515.3 1704.8)" font-size="27.1">S1<tspan dy="1.0">_</tspan><tspan dy="-1.0">25</tspan></text>
<text transform="translate(515.3 1727.2)" font-size="27.1" font-weight="bold">CE20</text>
<text transform="translate(515.3 1749.8)" font-size="27.1">S1<tspan dy="1.0">_</tspan><tspan dy="-1.0">14</tspan></text>
<text transform="translate(515.3 1772.1)" font-size="27.1">S1<tspan dy="1.0">_</tspan><tspan dy="-1.0">14</tspan></text>
<text transform="translate(515.3 1794.1)" font-size="27.1" font-weight="bold">GH95</text>
<text transform="translate(515.3 1816.4)" font-size="27.1">Carb. esterase</text>
<text transform="translate(515.3 1839.5)" font-size="27.1">Hyp. GH</text>
<text transform="translate(515.3 1861.3)" font-size="27.1">Transporter</text>
<text transform="translate(515.3 1883.6)" font-size="27.1">Oxidoreductase</text>
<text transform="translate(515.3 1906.2)" font-size="27.1">Acetyltransferase</text>
<text transform="translate(515.3 1928.8)" font-size="27.1">Regulator</text>
<text transform="translate(515.3 1950.6)" font-size="27.1">S1<tspan dy="1.0">_</tspan><tspan dy="-1.0">24</tspan></text>
<text transform="translate(515.3 1972.9)" font-size="27.1">Hyp. protein</text>
<text transform="translate(515.3 1994.7)" font-size="27.1" font-weight="bold">GH95</text>
<text transform="translate(515.3 2017.2)" font-size="27.1">Hyp. GH</text>
<text transform="translate(515.3 2039.5)" font-size="27.1">GH95</text>
<text transform="translate(515.3 2061.8)" font-size="27.1">S1<tspan dy="1.0">_</tspan><tspan dy="-1.0">4</tspan></text>
<text transform="translate(515.3 2084.4)" font-size="27.1">CBM51</text>
<text transform="translate(515.3 2106.2)" font-size="27.1">Hyp. protein</text>
<text transform="translate(515.3 2128.8)" font-size="27.1" font-weight="bold">Phosphatase</text>
<text transform="translate(515.3 2151.1)" font-size="27.1" font-weight="bold">GH29</text>
<text transform="translate(515.3 2172.9)" font-size="27.1">Hyp. protein</text>
<text transform="translate(515.3 2195.2)" font-size="27.1" font-weight="bold">GH115</text>
</g>
<g>
<rect x="1218.2" y="188.6" width="46.8" height="522.1" fill="#808080"/>
<text transform="translate(1251.2 494.64) rotate(-90) scale(0.7815 1)" font-size="34.9" fill="#fff" stroke="#fff" stroke-width="0.3" xml:space="preserve"><tspan font-weight="bold">PUL G</tspan></text>
<g>
<rect x="1273.9" y="188.6" width="46.45" height="522.1" fill="#fff"/>
<rect x="1273.9" y="188.6" width="46.45" height="23.73" fill="#f7f5f5"/>
<rect x="1273.9" y="212.33" width="46.45" height="23.73" fill="#edf1f4"/>
<rect x="1273.9" y="236.06" width="46.45" height="23.73" fill="#f4f5f6"/>
<rect x="1273.9" y="259.8" width="46.45" height="23.73" fill="#eff2f5"/>
<rect x="1273.9" y="283.53" width="46.45" height="23.73" fill="#eff2f5"/>
<rect x="1273.9" y="307.26" width="46.45" height="23.73" fill="#e3ebf1"/>
<rect x="1273.9" y="330.99" width="46.45" height="23.73" fill="#d5e3ed"/>
<rect x="1273.9" y="354.72" width="46.45" height="23.73" fill="#d5e3ed"/>
<rect x="1273.9" y="378.45" width="46.45" height="23.73" fill="#cbddea"/>
<rect x="1273.9" y="402.19" width="46.45" height="23.73" fill="#d0e0eb"/>
<rect x="1273.9" y="425.92" width="46.45" height="23.73" fill="#d0e0eb"/>
<rect x="1273.9" y="449.65" width="46.45" height="23.73" fill="#f6f6f7"/>
<rect x="1273.9" y="473.38" width="46.45" height="23.73" fill="#e8eef3"/>
<rect x="1273.9" y="497.11" width="46.45" height="23.73" fill="#dae6ee"/>
<rect x="1273.9" y="520.85" width="46.45" height="23.73" fill="#dae6ee"/>
<rect x="1273.9" y="544.58" width="46.45" height="23.73" fill="#dfe8f0"/>
<rect x="1273.9" y="568.31" width="46.45" height="23.73" fill="#dce7ef"/>
<rect x="1273.9" y="592.04" width="46.45" height="23.73" fill="#e3ebf1"/>
<rect x="1273.9" y="615.77" width="46.45" height="23.73" fill="#e3ebf1"/>
<rect x="1273.9" y="639.5" width="46.45" height="23.73" fill="#cbddea"/>
<rect x="1273.9" y="663.24" width="46.45" height="23.73" fill="#e2eaf1"/>
<rect x="1273.9" y="686.97" width="46.45" height="23.73" fill="#dfe8f0"/>
<rect x="1273.9" y="188.6" width="46.45" height="522.1" fill="none" stroke="#bdbdbd" stroke-width="3.0"/>
</g>
<g>
<rect x="1327.6" y="188.6" width="46.15" height="522.1" fill="#fff"/>
<rect x="1327.6" y="188.6" width="46.15" height="23.73" fill="#f2f4f6"/>
<rect x="1327.6" y="212.33" width="46.15" height="23.73" fill="#f3f5f6"/>
<rect x="1327.6" y="236.06" width="46.15" height="23.73" fill="#e5edf2"/>
<rect x="1327.6" y="259.8" width="46.15" height="23.73" fill="#eff2f5"/>
<rect x="1327.6" y="283.53" width="46.15" height="23.73" fill="#eaeff3"/>
<rect x="1327.6" y="307.26" width="46.15" height="23.73" fill="#e3ebf1"/>
<rect x="1327.6" y="330.99" width="46.15" height="23.73" fill="#dae6ee"/>
<rect x="1327.6" y="354.72" width="46.15" height="23.73" fill="#dfe8f0"/>
<rect x="1327.6" y="378.45" width="46.15" height="23.73" fill="#dae6ee"/>
<rect x="1327.6" y="402.19" width="46.15" height="23.73" fill="#ebf0f4"/>
<rect x="1327.6" y="425.92" width="46.15" height="23.73" fill="#edf1f4"/>
<rect x="1327.6" y="449.65" width="46.15" height="23.73" fill="#e3ebf1"/>
<rect x="1327.6" y="473.38" width="46.15" height="23.73" fill="#dae6ee"/>
<rect x="1327.6" y="497.11" width="46.15" height="23.73" fill="#c6dae9"/>
<rect x="1327.6" y="520.85" width="46.15" height="23.73" fill="#d0e0eb"/>
<rect x="1327.6" y="544.58" width="46.15" height="23.73" fill="#d0e0eb"/>
<rect x="1327.6" y="568.31" width="46.15" height="23.73" fill="#c6dae9"/>
<rect x="1327.6" y="592.04" width="46.15" height="23.73" fill="#e8eef3"/>
<rect x="1327.6" y="615.77" width="46.15" height="23.73" fill="#e8eef3"/>
<rect x="1327.6" y="639.5" width="46.15" height="23.73" fill="#dfe8f0"/>
<rect x="1327.6" y="663.24" width="46.15" height="23.73" fill="#f4f5f6"/>
<rect x="1327.6" y="686.97" width="46.15" height="23.73" fill="#dfe8f0"/>
<rect x="1327.6" y="188.6" width="46.15" height="522.1" fill="none" stroke="#bdbdbd" stroke-width="3.0"/>
</g>
<g>
<rect x="1380.7" y="188.6" width="46.4" height="522.1" fill="#fff"/>
<rect x="1380.7" y="188.6" width="46.4" height="23.73" fill="#f8efec"/>
<rect x="1380.7" y="212.33" width="46.4" height="23.73" fill="#f2f4f6"/>
<rect x="1380.7" y="236.06" width="46.4" height="23.73" fill="#f9e7e0"/>
<rect x="1380.7" y="259.8" width="46.4" height="23.73" fill="#f7f7f7"/>
<rect x="1380.7" y="283.53" width="46.4" height="23.73" fill="#f8f1ee"/>
<rect x="1380.7" y="307.26" width="46.4" height="23.73" fill="#eff2f5"/>
<rect x="1380.7" y="330.99" width="46.4" height="23.73" fill="#f4f5f6"/>
<rect x="1380.7" y="354.72" width="46.4" height="23.73" fill="#f2f4f6"/>
<rect x="1380.7" y="378.45" width="46.4" height="23.73" fill="#edf1f4"/>
<rect x="1380.7" y="402.19" width="46.4" height="23.73" fill="#e3ebf1"/>
<rect x="1380.7" y="425.92" width="46.4" height="23.73" fill="#e3ebf1"/>
<rect x="1380.7" y="449.65" width="46.4" height="23.73" fill="#f9e7e0"/>
<rect x="1380.7" y="473.38" width="46.4" height="23.73" fill="#f9ede9"/>
<rect x="1380.7" y="497.11" width="46.4" height="23.73" fill="#fae3db"/>
<rect x="1380.7" y="520.85" width="46.4" height="23.73" fill="#f9ede9"/>
<rect x="1380.7" y="544.58" width="46.4" height="23.73" fill="#f9ede9"/>
<rect x="1380.7" y="568.31" width="46.4" height="23.73" fill="#f9e5dd"/>
<rect x="1380.7" y="592.04" width="46.4" height="23.73" fill="#f3f5f6"/>
<rect x="1380.7" y="615.77" width="46.4" height="23.73" fill="#f7f6f6"/>
<rect x="1380.7" y="639.5" width="46.4" height="23.73" fill="#e6edf2"/>
<rect x="1380.7" y="663.24" width="46.4" height="23.73" fill="#e6edf2"/>
<rect x="1380.7" y="686.97" width="46.4" height="23.73" fill="#f7f6f6"/>
<rect x="1380.7" y="188.6" width="46.4" height="522.1" fill="none" stroke="#bdbdbd" stroke-width="3.0"/>
</g>
<g>
<rect x="1443.5" y="188.6" width="46.15" height="522.1" fill="#fff"/>
<rect x="1443.5" y="188.6" width="46.15" height="23.73" fill="#d0e0eb"/>
<rect x="1443.5" y="236.06" width="46.15" height="23.73" fill="#d5e3ed"/>
<rect x="1443.5" y="354.72" width="46.15" height="23.73" fill="#cbddea"/>
<rect x="1443.5" y="425.92" width="46.15" height="23.73" fill="#d0e0eb"/>
<rect x="1443.5" y="544.58" width="46.15" height="23.73" fill="#d5e3ed"/>
<rect x="1443.5" y="663.24" width="46.15" height="23.73" fill="#d5e3ed"/>
<rect x="1443.5" y="188.6" width="46.15" height="522.1" fill="none" stroke="#bdbdbd" stroke-width="3.0"/>
</g>
<g>
<rect x="1496.85" y="188.6" width="46.2" height="522.1" fill="#fff"/>
<rect x="1496.85" y="188.6" width="46.2" height="23.73" fill="#cbddea"/>
<rect x="1496.85" y="236.06" width="46.2" height="23.73" fill="#dce7ef"/>
<rect x="1496.85" y="354.72" width="46.2" height="23.73" fill="#eff2f5"/>
<rect x="1496.85" y="425.92" width="46.2" height="23.73" fill="#f7f5f5"/>
<rect x="1496.85" y="544.58" width="46.2" height="23.73" fill="#d5e3ed"/>
<rect x="1496.85" y="663.24" width="46.2" height="23.73" fill="#e6edf2"/>
<rect x="1496.85" y="188.6" width="46.2" height="522.1" fill="none" stroke="#bdbdbd" stroke-width="3.0"/>
</g>
<g>
<rect x="1550.2" y="188.6" width="46.3" height="522.1" fill="#fff"/>
<rect x="1550.2" y="188.6" width="46.3" height="23.73" fill="#f7f5f5"/>
<rect x="1550.2" y="236.06" width="46.3" height="23.73" fill="#eff2f5"/>
<rect x="1550.2" y="354.72" width="46.3" height="23.73" fill="#d5e3ed"/>
<rect x="1550.2" y="425.92" width="46.3" height="23.73" fill="#d0e0eb"/>
<rect x="1550.2" y="544.58" width="46.3" height="23.73" fill="#f6f6f7"/>
<rect x="1550.2" y="663.24" width="46.3" height="23.73" fill="#e8eef3"/>
<rect x="1550.2" y="188.6" width="46.3" height="522.1" fill="none" stroke="#bdbdbd" stroke-width="3.0"/>
</g>
</g>
<g>
<rect x="1218.2" y="720" width="46.8" height="355.7" fill="#808080"/>
<text transform="translate(1251.2 937.84) rotate(-90) scale(0.7824 1)" font-size="34.9" fill="#fff" stroke="#fff" stroke-width="0.3" xml:space="preserve"><tspan font-weight="bold">PUL I</tspan></text>
<g>
<rect x="1273.9" y="720" width="46.45" height="355.7" fill="#fff"/>
<rect x="1273.9" y="720" width="46.45" height="23.71" fill="#f7f7f7"/>
<rect x="1273.9" y="743.71" width="46.45" height="23.71" fill="#dae6ee"/>
<rect x="1273.9" y="767.43" width="46.45" height="23.71" fill="#dae6ee"/>
<rect x="1273.9" y="791.14" width="46.45" height="23.71" fill="#dae6ee"/>
<rect x="1273.9" y="814.85" width="46.45" height="23.71" fill="#d5e3ed"/>
<rect x="1273.9" y="838.57" width="46.45" height="23.71" fill="#d5e3ed"/>
<rect x="1273.9" y="862.28" width="46.45" height="23.71" fill="#dae6ee"/>
<rect x="1273.9" y="885.99" width="46.45" height="23.71" fill="#cbddea"/>
<rect x="1273.9" y="909.71" width="46.45" height="23.71" fill="#dae6ee"/>
<rect x="1273.9" y="933.42" width="46.45" height="23.71" fill="#c6dae9"/>
<rect x="1273.9" y="957.13" width="46.45" height="23.71" fill="#cbddea"/>
<rect x="1273.9" y="980.85" width="46.45" height="23.71" fill="#c6dae9"/>
<rect x="1273.9" y="1004.56" width="46.45" height="23.71" fill="#bcd4e6"/>
<rect x="1273.9" y="1028.27" width="46.45" height="23.71" fill="#bcd4e6"/>
<rect x="1273.9" y="1051.99" width="46.45" height="23.71" fill="#aacae0"/>
<rect x="1273.9" y="720" width="46.45" height="355.7" fill="none" stroke="#bdbdbd" stroke-width="3.0"/>
</g>
<g>
<rect x="1327.6" y="720" width="46.15" height="355.7" fill="#fff"/>
<rect x="1327.6" y="720" width="46.15" height="23.71" fill="#f7f7f7"/>
<rect x="1327.6" y="743.71" width="46.15" height="23.71" fill="#b7d2e4"/>
<rect x="1327.6" y="767.43" width="46.15" height="23.71" fill="#a8c9e0"/>
<rect x="1327.6" y="791.14" width="46.15" height="23.71" fill="#f5f6f6"/>
<rect x="1327.6" y="814.85" width="46.15" height="23.71" fill="#f6f6f7"/>
<rect x="1327.6" y="838.57" width="46.15" height="23.71" fill="#f4f5f6"/>
<rect x="1327.6" y="862.28" width="46.15" height="23.71" fill="#f4f5f6"/>
<rect x="1327.6" y="885.99" width="46.15" height="23.71" fill="#f1f4f5"/>
<rect x="1327.6" y="909.71" width="46.15" height="23.71" fill="#ebf0f4"/>
<rect x="1327.6" y="933.42" width="46.15" height="23.71" fill="#e3ebf1"/>
<rect x="1327.6" y="957.13" width="46.15" height="23.71" fill="#f1f4f5"/>
<rect x="1327.6" y="980.85" width="46.15" height="23.71" fill="#f1f4f5"/>
<rect x="1327.6" y="1004.56" width="46.15" height="23.71" fill="#e5edf2"/>
<rect x="1327.6" y="1028.27" width="46.15" height="23.71" fill="#e8eef3"/>
<rect x="1327.6" y="1051.99" width="46.15" height="23.71" fill="#dde7ef"/>
<rect x="1327.6" y="720" width="46.15" height="355.7" fill="none" stroke="#bdbdbd" stroke-width="3.0"/>
</g>
<g>
<rect x="1380.7" y="720" width="46.4" height="355.7" fill="#fff"/>
<rect x="1380.7" y="720" width="46.4" height="23.71" fill="#f7f7f7"/>
<rect x="1380.7" y="743.71" width="46.4" height="23.71" fill="#fadbd0"/>
<rect x="1380.7" y="767.43" width="46.4" height="23.71" fill="#fad7ca"/>
<rect x="1380.7" y="791.14" width="46.4" height="23.71" fill="#dae6ee"/>
<rect x="1380.7" y="814.85" width="46.4" height="23.71" fill="#d8e4ee"/>
<rect x="1380.7" y="838.57" width="46.4" height="23.71" fill="#dae6ee"/>
<rect x="1380.7" y="862.28" width="46.4" height="23.71" fill="#dfe8f0"/>
<rect x="1380.7" y="885.99" width="46.4" height="23.71" fill="#dae6ee"/>
<rect x="1380.7" y="909.71" width="46.4" height="23.71" fill="#ebf0f4"/>
<rect x="1380.7" y="933.42" width="46.4" height="23.71" fill="#dae6ee"/>
<rect x="1380.7" y="957.13" width="46.4" height="23.71" fill="#d5e3ed"/>
<rect x="1380.7" y="980.85" width="46.4" height="23.71" fill="#d0e0eb"/>
<rect x="1380.7" y="1004.56" width="46.4" height="23.71" fill="#cbddea"/>
<rect x="1380.7" y="1028.27" width="46.4" height="23.71" fill="#cbddea"/>
<rect x="1380.7" y="1051.99" width="46.4" height="23.71" fill="#cbddea"/>
<rect x="1380.7" y="720" width="46.4" height="355.7" fill="none" stroke="#bdbdbd" stroke-width="3.0"/>
</g>
<g>
<rect x="1443.5" y="720" width="46.15" height="355.7" fill="#fff"/>
<rect x="1443.5" y="743.71" width="46.15" height="23.71" fill="#cbddea"/>
<rect x="1443.5" y="767.43" width="46.15" height="23.71" fill="#dfe8f0"/>
<rect x="1443.5" y="838.57" width="46.15" height="23.71" fill="#c6dae9"/>
<rect x="1443.5" y="885.99" width="46.15" height="23.71" fill="#c6dae9"/>
<rect x="1443.5" y="980.85" width="46.15" height="23.71" fill="#dae6ee"/>
<rect x="1443.5" y="1028.27" width="46.15" height="23.71" fill="#e8eef3"/>
<rect x="1443.5" y="1051.99" width="46.15" height="23.71" fill="#8cbbd8"/>
<rect x="1443.5" y="720" width="46.15" height="355.7" fill="none" stroke="#bdbdbd" stroke-width="3.0"/>
</g>
<g>
<rect x="1496.85" y="720" width="46.2" height="355.7" fill="#fff"/>
<rect x="1496.85" y="743.71" width="46.2" height="23.71" fill="#a8c9e0"/>
<rect x="1496.85" y="767.43" width="46.2" height="23.71" fill="#cbddea"/>
<rect x="1496.85" y="838.57" width="46.2" height="23.71" fill="#eff2f5"/>
<rect x="1496.85" y="885.99" width="46.2" height="23.71" fill="#f0f3f5"/>
<rect x="1496.85" y="980.85" width="46.2" height="23.71" fill="#f4f5f6"/>
<rect x="1496.85" y="1028.27" width="46.2" height="23.71" fill="#edf1f4"/>
<rect x="1496.85" y="1051.99" width="46.2" height="23.71" fill="#f4f5f6"/>
<rect x="1496.85" y="720" width="46.2" height="355.7" fill="none" stroke="#bdbdbd" stroke-width="3.0"/>
</g>
<g>
<rect x="1550.2" y="720" width="46.3" height="355.7" fill="#fff"/>
<rect x="1550.2" y="743.71" width="46.3" height="23.71" fill="#fadfd5"/>
<rect x="1550.2" y="767.43" width="46.3" height="23.71" fill="#f9e7e0"/>
<rect x="1550.2" y="838.57" width="46.3" height="23.71" fill="#cbddea"/>
<rect x="1550.2" y="885.99" width="46.3" height="23.71" fill="#cbddea"/>
<rect x="1550.2" y="980.85" width="46.3" height="23.71" fill="#e3ebf1"/>
<rect x="1550.2" y="1028.27" width="46.3" height="23.71" fill="#f4f5f6"/>
<rect x="1550.2" y="1051.99" width="46.3" height="23.71" fill="#96c0db"/>
<rect x="1550.2" y="720" width="46.3" height="355.7" fill="none" stroke="#bdbdbd" stroke-width="3.0"/>
</g>
</g>
<g>
<rect x="1218.2" y="1085" width="46.8" height="474.9" fill="#808080"/>
<text transform="translate(1251.2 1364.62) rotate(-90) scale(0.7741 1)" font-size="34.9" fill="#fff" stroke="#fff" stroke-width="0.3" xml:space="preserve"><tspan font-weight="bold">PUL J</tspan></text>
<g>
<rect x="1273.9" y="1085" width="46.45" height="474.9" fill="#fff"/>
<rect x="1273.9" y="1085" width="46.45" height="23.74" fill="#eaeff3"/>
<rect x="1273.9" y="1108.74" width="46.45" height="23.75" fill="#eff2f5"/>
<rect x="1273.9" y="1132.49" width="46.45" height="23.75" fill="#f0f3f5"/>
<rect x="1273.9" y="1156.24" width="46.45" height="23.74" fill="#eff2f5"/>
<rect x="1273.9" y="1179.98" width="46.45" height="23.74" fill="#eff2f5"/>
<rect x="1273.9" y="1203.72" width="46.45" height="23.75" fill="#f7f5f4"/>
<rect x="1273.9" y="1227.47" width="46.45" height="23.75" fill="#f0f3f5"/>
<rect x="1273.9" y="1251.22" width="46.45" height="23.74" fill="#eff2f5"/>
<rect x="1273.9" y="1274.96" width="46.45" height="23.74" fill="#ebf0f4"/>
<rect x="1273.9" y="1298.7" width="46.45" height="23.75" fill="#f7f7f7"/>
<rect x="1273.9" y="1322.45" width="46.45" height="23.75" fill="#f8f1ef"/>
<rect x="1273.9" y="1346.2" width="46.45" height="23.74" fill="#e6edf2"/>
<rect x="1273.9" y="1369.94" width="46.45" height="23.74" fill="#f0f3f5"/>
<rect x="1273.9" y="1393.68" width="46.45" height="23.75" fill="#eef2f4"/>
<rect x="1273.9" y="1417.43" width="46.45" height="23.75" fill="#dfe8f0"/>
<rect x="1273.9" y="1441.18" width="46.45" height="23.74" fill="#f0f3f5"/>
<rect x="1273.9" y="1464.92" width="46.45" height="23.74" fill="#edf1f4"/>
<rect x="1273.9" y="1488.66" width="46.45" height="23.75" fill="#f7f7f7"/>
<rect x="1273.9" y="1512.41" width="46.45" height="23.75" fill="#f7f7f7"/>
<rect x="1273.9" y="1536.16" width="46.45" height="23.74" fill="#f8f4f2"/>
<rect x="1273.9" y="1085" width="46.45" height="474.9" fill="none" stroke="#bdbdbd" stroke-width="3.0"/>
</g>
<g>
<rect x="1327.6" y="1085" width="46.15" height="474.9" fill="#fff"/>
<rect x="1327.6" y="1085" width="46.15" height="23.74" fill="#b2cfe3"/>
<rect x="1327.6" y="1108.74" width="46.15" height="23.75" fill="#eef2f4"/>
<rect x="1327.6" y="1132.49" width="46.15" height="23.75" fill="#e5edf2"/>
<rect x="1327.6" y="1156.24" width="46.15" height="23.74" fill="#ebf0f4"/>
<rect x="1327.6" y="1179.98" width="46.15" height="23.74" fill="#f5f6f6"/>
<rect x="1327.6" y="1203.72" width="46.15" height="23.75" fill="#eff2f5"/>
<rect x="1327.6" y="1227.47" width="46.15" height="23.75" fill="#edf1f4"/>
<rect x="1327.6" y="1251.22" width="46.15" height="23.74" fill="#eaeff3"/>
<rect x="1327.6" y="1274.96" width="46.15" height="23.74" fill="#dfe8f0"/>
<rect x="1327.6" y="1298.7" width="46.15" height="23.75" fill="#f9e7e0"/>
<rect x="1327.6" y="1322.45" width="46.15" height="23.75" fill="#f9e7e0"/>
<rect x="1327.6" y="1346.2" width="46.15" height="23.74" fill="#edf1f4"/>
<rect x="1327.6" y="1369.94" width="46.15" height="23.74" fill="#ebf0f4"/>
<rect x="1327.6" y="1393.68" width="46.15" height="23.75" fill="#e3ebf1"/>
<rect x="1327.6" y="1417.43" width="46.15" height="23.75" fill="#b7d2e4"/>
<rect x="1327.6" y="1441.18" width="46.15" height="23.74" fill="#d0e0eb"/>
<rect x="1327.6" y="1464.92" width="46.15" height="23.74" fill="#dfe8f0"/>
<rect x="1327.6" y="1488.66" width="46.15" height="23.75" fill="#f6f6f7"/>
<rect x="1327.6" y="1512.41" width="46.15" height="23.75" fill="#f5f6f6"/>
<rect x="1327.6" y="1536.16" width="46.15" height="23.74" fill="#f8f1ee"/>
<rect x="1327.6" y="1085" width="46.15" height="474.9" fill="none" stroke="#bdbdbd" stroke-width="3.0"/>
</g>
<g>
<rect x="1380.7" y="1085" width="46.4" height="474.9" fill="#fff"/>
<rect x="1380.7" y="1085" width="46.4" height="23.74" fill="#facfbf"/>
<rect x="1380.7" y="1108.74" width="46.4" height="23.75" fill="#f7f6f6"/>
<rect x="1380.7" y="1132.49" width="46.4" height="23.75" fill="#f9ede9"/>
<rect x="1380.7" y="1156.24" width="46.4" height="23.74" fill="#f8f3f1"/>
<rect x="1380.7" y="1179.98" width="46.4" height="23.74" fill="#f3f5f6"/>
<rect x="1380.7" y="1203.72" width="46.4" height="23.75" fill="#f9ede9"/>
<rect x="1380.7" y="1227.47" width="46.4" height="23.75" fill="#f8f2f0"/>
<rect x="1380.7" y="1251.22" width="46.4" height="23.74" fill="#f8f1ee"/>
<rect x="1380.7" y="1274.96" width="46.4" height="23.74" fill="#f9ede9"/>
<rect x="1380.7" y="1298.7" width="46.4" height="23.75" fill="#e6edf2"/>
<rect x="1380.7" y="1322.45" width="46.4" height="23.75" fill="#edf1f4"/>
<rect x="1380.7" y="1346.2" width="46.4" height="23.74" fill="#f3f5f6"/>
<rect x="1380.7" y="1369.94" width="46.4" height="23.74" fill="#f8f1ee"/>
<rect x="1380.7" y="1393.68" width="46.4" height="23.75" fill="#f9ede8"/>
<rect x="1380.7" y="1417.43" width="46.4" height="23.75" fill="#fadbd0"/>
<rect x="1380.7" y="1441.18" width="46.4" height="23.74" fill="#fadfd5"/>
<rect x="1380.7" y="1464.92" width="46.4" height="23.74" fill="#f9ede8"/>
<rect x="1380.7" y="1488.66" width="46.4" height="23.75" fill="#f6f6f7"/>
<rect x="1380.7" y="1512.41" width="46.4" height="23.75" fill="#f7f5f4"/>
<rect x="1380.7" y="1536.16" width="46.4" height="23.74" fill="#f3f5f6"/>
<rect x="1380.7" y="1085" width="46.4" height="474.9" fill="none" stroke="#bdbdbd" stroke-width="3.0"/>
</g>
<g>
<rect x="1443.5" y="1085" width="46.15" height="474.9" fill="#fff"/>
<rect x="1443.5" y="1085" width="46.15" height="23.74" fill="#f3f5f6"/>
<rect x="1443.5" y="1132.49" width="46.15" height="23.75" fill="#f8efec"/>
<rect x="1443.5" y="1156.24" width="46.15" height="23.74" fill="#cbddea"/>
<rect x="1443.5" y="1251.22" width="46.15" height="23.74" fill="#d5e3ed"/>
<rect x="1443.5" y="1322.45" width="46.15" height="23.75" fill="#dae6ee"/>
<rect x="1443.5" y="1417.43" width="46.15" height="23.75" fill="#d5e3ed"/>
<rect x="1443.5" y="1441.18" width="46.15" height="23.74" fill="#f8efec"/>
<rect x="1443.5" y="1512.41" width="46.15" height="23.75" fill="#f8f1ee"/>
<rect x="1443.5" y="1536.16" width="46.15" height="23.74" fill="#dfe8f0"/>
<rect x="1443.5" y="1085" width="46.15" height="474.9" fill="none" stroke="#bdbdbd" stroke-width="3.0"/>
</g>
<g>
<rect x="1496.85" y="1085" width="46.2" height="474.9" fill="#fff"/>
<rect x="1496.85" y="1085" width="46.2" height="23.74" fill="#cbddea"/>
<rect x="1496.85" y="1132.49" width="46.2" height="23.75" fill="#f9ede8"/>
<rect x="1496.85" y="1156.24" width="46.2" height="23.74" fill="#e3ebf1"/>
<rect x="1496.85" y="1251.22" width="46.2" height="23.74" fill="#e6edf2"/>
<rect x="1496.85" y="1322.45" width="46.2" height="23.75" fill="#cbddea"/>
<rect x="1496.85" y="1417.43" width="46.2" height="23.75" fill="#b7d2e4"/>
<rect x="1496.85" y="1441.18" width="46.2" height="23.74" fill="#f4f5f6"/>
<rect x="1496.85" y="1512.41" width="46.2" height="23.75" fill="#fadbd0"/>
<rect x="1496.85" y="1536.16" width="46.2" height="23.74" fill="#f1f4f5"/>
<rect x="1496.85" y="1085" width="46.2" height="474.9" fill="none" stroke="#bdbdbd" stroke-width="3.0"/>
</g>
<g>
<rect x="1550.2" y="1085" width="46.3" height="474.9" fill="#fff"/>
<rect x="1550.2" y="1085" width="46.3" height="23.74" fill="#fadbd0"/>
<rect x="1550.2" y="1132.49" width="46.3" height="23.75" fill="#f7f7f7"/>
<rect x="1550.2" y="1156.24" width="46.3" height="23.74" fill="#e6edf2"/>
<rect x="1550.2" y="1251.22" width="46.3" height="23.74" fill="#ebf0f4"/>
<rect x="1550.2" y="1322.45" width="46.3" height="23.75" fill="#f9ebe6"/>
<rect x="1550.2" y="1417.43" width="46.3" height="23.75" fill="#fae1d7"/>
<rect x="1550.2" y="1441.18" width="46.3" height="23.74" fill="#f9ebe6"/>
<rect x="1550.2" y="1512.41" width="46.3" height="23.75" fill="#e3ebf1"/>
<rect x="1550.2" y="1536.16" width="46.3" height="23.74" fill="#e3ebf1"/>
<rect x="1550.2" y="1085" width="46.3" height="474.9" fill="none" stroke="#bdbdbd" stroke-width="3.0"/>
</g>
</g>
<g>
<rect x="1218.2" y="1568.6" width="46.8" height="356.1" fill="#808080"/>
<text transform="translate(1251.2 1791.77) rotate(-90) scale(0.7920 1)" font-size="34.9" fill="#fff" stroke="#fff" stroke-width="0.3" xml:space="preserve"><tspan font-weight="bold">PUL K</tspan></text>
<g>
<rect x="1273.9" y="1568.6" width="46.45" height="356.1" fill="#fff"/>
<rect x="1273.9" y="1568.6" width="46.45" height="23.74" fill="#f7f7f7"/>
<rect x="1273.9" y="1592.34" width="46.45" height="23.74" fill="#f7f6f6"/>
<rect x="1273.9" y="1616.08" width="46.45" height="23.74" fill="#edf1f4"/>
<rect x="1273.9" y="1639.82" width="46.45" height="23.74" fill="#f5f6f6"/>
<rect x="1273.9" y="1663.56" width="46.45" height="23.74" fill="#f7f7f7"/>
<rect x="1273.9" y="1687.3" width="46.45" height="23.74" fill="#f5f6f6"/>
<rect x="1273.9" y="1711.04" width="46.45" height="23.74" fill="#d0e0eb"/>
<rect x="1273.9" y="1734.78" width="46.45" height="23.74" fill="#cbddea"/>
<rect x="1273.9" y="1758.52" width="46.45" height="23.74" fill="#e2eaf1"/>
<rect x="1273.9" y="1782.26" width="46.45" height="23.74" fill="#e3ebf1"/>
<rect x="1273.9" y="1806" width="46.45" height="23.74" fill="#dae6ee"/>
<rect x="1273.9" y="1829.74" width="46.45" height="23.74" fill="#e5edf2"/>
<rect x="1273.9" y="1853.48" width="46.45" height="23.74" fill="#e5edf2"/>
<rect x="1273.9" y="1877.22" width="46.45" height="23.74" fill="#e3ebf1"/>
<rect x="1273.9" y="1900.96" width="46.45" height="23.74" fill="#e5edf2"/>
<rect x="1273.9" y="1568.6" width="46.45" height="356.1" fill="none" stroke="#bdbdbd" stroke-width="3.0"/>
</g>
<g>
<rect x="1327.6" y="1568.6" width="46.15" height="356.1" fill="#fff"/>
<rect x="1327.6" y="1568.6" width="46.15" height="23.74" fill="#eff2f5"/>
<rect x="1327.6" y="1592.34" width="46.15" height="23.74" fill="#eff2f5"/>
<rect x="1327.6" y="1616.08" width="46.15" height="23.74" fill="#c1d7e7"/>
<rect x="1327.6" y="1639.82" width="46.15" height="23.74" fill="#edf1f4"/>
<rect x="1327.6" y="1663.56" width="46.15" height="23.74" fill="#f3f5f6"/>
<rect x="1327.6" y="1687.3" width="46.15" height="23.74" fill="#f1f4f5"/>
<rect x="1327.6" y="1711.04" width="46.15" height="23.74" fill="#eaeff3"/>
<rect x="1327.6" y="1734.78" width="46.15" height="23.74" fill="#e8eef3"/>
<rect x="1327.6" y="1758.52" width="46.15" height="23.74" fill="#dae6ee"/>
<rect x="1327.6" y="1782.26" width="46.15" height="23.74" fill="#e8eef3"/>
<rect x="1327.6" y="1806" width="46.15" height="23.74" fill="#e2eaf1"/>
<rect x="1327.6" y="1829.74" width="46.15" height="23.74" fill="#dfe8f0"/>
<rect x="1327.6" y="1853.48" width="46.15" height="23.74" fill="#dae6ee"/>
<rect x="1327.6" y="1877.22" width="46.15" height="23.74" fill="#e3ebf1"/>
<rect x="1327.6" y="1900.96" width="46.15" height="23.74" fill="#e8eef3"/>
<rect x="1327.6" y="1568.6" width="46.15" height="356.1" fill="none" stroke="#bdbdbd" stroke-width="3.0"/>
</g>
<g>
<rect x="1380.7" y="1568.6" width="46.4" height="356.1" fill="#fff"/>
<rect x="1380.7" y="1568.6" width="46.4" height="23.74" fill="#f8f1ee"/>
<rect x="1380.7" y="1592.34" width="46.4" height="23.74" fill="#f9ede9"/>
<rect x="1380.7" y="1616.08" width="46.4" height="23.74" fill="#fad3c5"/>
<rect x="1380.7" y="1639.82" width="46.4" height="23.74" fill="#f8f1ee"/>
<rect x="1380.7" y="1663.56" width="46.4" height="23.74" fill="#f8f4f2"/>
<rect x="1380.7" y="1687.3" width="46.4" height="23.74" fill="#f8f3f1"/>
<rect x="1380.7" y="1711.04" width="46.4" height="23.74" fill="#dfe8f0"/>
<rect x="1380.7" y="1734.78" width="46.4" height="23.74" fill="#e2eaf1"/>
<rect x="1380.7" y="1758.52" width="46.4" height="23.74" fill="#f7f5f4"/>
<rect x="1380.7" y="1782.26" width="46.4" height="23.74" fill="#f1f4f5"/>
<rect x="1380.7" y="1806" width="46.4" height="23.74" fill="#f0f3f5"/>
<rect x="1380.7" y="1829.74" width="46.4" height="23.74" fill="#f8f4f2"/>
<rect x="1380.7" y="1853.48" width="46.4" height="23.74" fill="#f8f1ee"/>
<rect x="1380.7" y="1877.22" width="46.4" height="23.74" fill="#f4f5f6"/>
<rect x="1380.7" y="1900.96" width="46.4" height="23.74" fill="#f4f5f6"/>
<rect x="1380.7" y="1568.6" width="46.4" height="356.1" fill="none" stroke="#bdbdbd" stroke-width="3.0"/>
</g>
<g>
<rect x="1443.5" y="1568.6" width="46.15" height="356.1" fill="#fff"/>
<rect x="1443.5" y="1616.08" width="46.15" height="23.74" fill="#b7d2e4"/>
<rect x="1443.5" y="1639.82" width="46.15" height="23.74" fill="#d0e0eb"/>
<rect x="1443.5" y="1711.04" width="46.15" height="23.74" fill="#c6dae9"/>
<rect x="1443.5" y="1734.78" width="46.15" height="23.74" fill="#dae6ee"/>
<rect x="1443.5" y="1853.48" width="46.15" height="23.74" fill="#e3ebf1"/>
<rect x="1443.5" y="1568.6" width="46.15" height="356.1" fill="none" stroke="#bdbdbd" stroke-width="3.0"/>
</g>
<g>
<rect x="1496.85" y="1568.6" width="46.2" height="356.1" fill="#fff"/>
<rect x="1496.85" y="1616.08" width="46.2" height="23.74" fill="#75afd2"/>
<rect x="1496.85" y="1639.82" width="46.2" height="23.74" fill="#dae6ee"/>
<rect x="1496.85" y="1711.04" width="46.2" height="23.74" fill="#e3ebf1"/>
<rect x="1496.85" y="1734.78" width="46.2" height="23.74" fill="#f7f7f7"/>
<rect x="1496.85" y="1853.48" width="46.2" height="23.74" fill="#f7f7f7"/>
<rect x="1496.85" y="1568.6" width="46.2" height="356.1" fill="none" stroke="#bdbdbd" stroke-width="3.0"/>
</g>
<g>
<rect x="1550.2" y="1568.6" width="46.3" height="356.1" fill="#fff"/>
<rect x="1550.2" y="1616.08" width="46.3" height="23.74" fill="#fad3c5"/>
<rect x="1550.2" y="1639.82" width="46.3" height="23.74" fill="#f4f5f6"/>
<rect x="1550.2" y="1711.04" width="46.3" height="23.74" fill="#dae6ee"/>
<rect x="1550.2" y="1734.78" width="46.3" height="23.74" fill="#dfe8f0"/>
<rect x="1550.2" y="1853.48" width="46.3" height="23.74" fill="#e3ebf1"/>
<rect x="1550.2" y="1568.6" width="46.3" height="356.1" fill="none" stroke="#bdbdbd" stroke-width="3.0"/>
</g>
</g>
<g>
<rect x="1218.2" y="1934.1" width="46.8" height="403.5" fill="#808080"/>
<text transform="translate(1251.2 2178.84) rotate(-90) scale(0.7813 1)" font-size="34.9" fill="#fff" stroke="#fff" stroke-width="0.3" xml:space="preserve"><tspan font-weight="bold">PUL L</tspan></text>
<g>
<rect x="1273.9" y="1934.1" width="46.45" height="403.5" fill="#fff"/>
<rect x="1273.9" y="1934.1" width="46.45" height="23.74" fill="#e5edf2"/>
<rect x="1273.9" y="1957.84" width="46.45" height="23.74" fill="#f8efec"/>
<rect x="1273.9" y="1981.57" width="46.45" height="23.74" fill="#c1d7e7"/>
<rect x="1273.9" y="2005.31" width="46.45" height="23.74" fill="#dae6ee"/>
<rect x="1273.9" y="2029.04" width="46.45" height="23.74" fill="#dae6ee"/>
<rect x="1273.9" y="2052.78" width="46.45" height="23.74" fill="#eff2f5"/>
<rect x="1273.9" y="2076.51" width="46.45" height="23.74" fill="#cbddea"/>
<rect x="1273.9" y="2100.25" width="46.45" height="23.74" fill="#cbddea"/>
<rect x="1273.9" y="2123.98" width="46.45" height="23.74" fill="#cbddea"/>
<rect x="1273.9" y="2147.72" width="46.45" height="23.74" fill="#cbddea"/>
<rect x="1273.9" y="2171.45" width="46.45" height="23.74" fill="#cbddea"/>
<rect x="1273.9" y="2195.19" width="46.45" height="23.74" fill="#c6dae9"/>
<rect x="1273.9" y="2218.92" width="46.45" height="23.74" fill="#c1d7e7"/>
<rect x="1273.9" y="2242.66" width="46.45" height="23.74" fill="#c1d7e7"/>
<rect x="1273.9" y="2266.39" width="46.45" height="23.74" fill="#c1d7e7"/>
<rect x="1273.9" y="2290.13" width="46.45" height="23.74" fill="#bcd4e6"/>
<rect x="1273.9" y="2313.86" width="46.45" height="23.74" fill="#b2cfe3"/>
<rect x="1273.9" y="1934.1" width="46.45" height="403.5" fill="none" stroke="#bdbdbd" stroke-width="3.0"/>
</g>
<g>
<rect x="1327.6" y="1934.1" width="46.15" height="403.5" fill="#fff"/>
<rect x="1327.6" y="1934.1" width="46.15" height="23.74" fill="#f8f2f0"/>
<rect x="1327.6" y="1957.84" width="46.15" height="23.74" fill="#f9e7e0"/>
<rect x="1327.6" y="1981.57" width="46.15" height="23.74" fill="#edf1f4"/>
<rect x="1327.6" y="2005.31" width="46.15" height="23.74" fill="#dfe8f0"/>
<rect x="1327.6" y="2029.04" width="46.15" height="23.74" fill="#eff2f5"/>
<rect x="1327.6" y="2052.78" width="46.15" height="23.74" fill="#f7f6f6"/>
<rect x="1327.6" y="2076.51" width="46.15" height="23.74" fill="#e8eef3"/>
<rect x="1327.6" y="2100.25" width="46.15" height="23.74" fill="#e5edf2"/>
<rect x="1327.6" y="2123.98" width="46.15" height="23.74" fill="#ebf0f4"/>
<rect x="1327.6" y="2147.72" width="46.15" height="23.74" fill="#dfe8f0"/>
<rect x="1327.6" y="2171.45" width="46.15" height="23.74" fill="#f0f3f5"/>
<rect x="1327.6" y="2195.19" width="46.15" height="23.74" fill="#f6f6f7"/>
<rect x="1327.6" y="2218.92" width="46.15" height="23.74" fill="#dfe8f0"/>
<rect x="1327.6" y="2242.66" width="46.15" height="23.74" fill="#f6f6f7"/>
<rect x="1327.6" y="2266.39" width="46.15" height="23.74" fill="#e8eef3"/>
<rect x="1327.6" y="2290.13" width="46.15" height="23.74" fill="#f6f6f7"/>
<rect x="1327.6" y="2313.86" width="46.15" height="23.74" fill="#eaeff3"/>
<rect x="1327.6" y="1934.1" width="46.15" height="403.5" fill="none" stroke="#bdbdbd" stroke-width="3.0"/>
</g>
<g>
<rect x="1380.7" y="1934.1" width="46.4" height="403.5" fill="#fff"/>
<rect x="1380.7" y="1934.1" width="46.4" height="23.74" fill="#dfe8f0"/>
<rect x="1380.7" y="1957.84" width="46.4" height="23.74" fill="#edf1f4"/>
<rect x="1380.7" y="1981.57" width="46.4" height="23.74" fill="#cbddea"/>
<rect x="1380.7" y="2005.31" width="46.4" height="23.74" fill="#f4f5f6"/>
<rect x="1380.7" y="2029.04" width="46.4" height="23.74" fill="#e5edf2"/>
<rect x="1380.7" y="2052.78" width="46.4" height="23.74" fill="#edf1f4"/>
<rect x="1380.7" y="2076.51" width="46.4" height="23.74" fill="#dae6ee"/>
<rect x="1380.7" y="2100.25" width="46.4" height="23.74" fill="#e3ebf1"/>
<rect x="1380.7" y="2123.98" width="46.4" height="23.74" fill="#e3ebf1"/>
<rect x="1380.7" y="2147.72" width="46.4" height="23.74" fill="#e5edf2"/>
<rect x="1380.7" y="2171.45" width="46.4" height="23.74" fill="#d5e3ed"/>
<rect x="1380.7" y="2195.19" width="46.4" height="23.74" fill="#cbddea"/>
<rect x="1380.7" y="2218.92" width="46.4" height="23.74" fill="#dae6ee"/>
<rect x="1380.7" y="2242.66" width="46.4" height="23.74" fill="#c6dae9"/>
<rect x="1380.7" y="2266.39" width="46.4" height="23.74" fill="#dae6ee"/>
<rect x="1380.7" y="2290.13" width="46.4" height="23.74" fill="#c1d7e7"/>
<rect x="1380.7" y="2313.86" width="46.4" height="23.74" fill="#c6dae9"/>
<rect x="1380.7" y="1934.1" width="46.4" height="403.5" fill="none" stroke="#bdbdbd" stroke-width="3.0"/>
</g>
<g>
<rect x="1443.5" y="1934.1" width="46.15" height="403.5" fill="#fff"/>
<rect x="1443.5" y="2052.78" width="46.15" height="23.74" fill="#d0e0eb"/>
<rect x="1443.5" y="2123.98" width="46.15" height="23.74" fill="#dfe8f0"/>
<rect x="1443.5" y="2290.13" width="46.15" height="23.74" fill="#c6dae9"/>
<rect x="1443.5" y="2313.86" width="46.15" height="23.74" fill="#e8eef3"/>
<rect x="1443.5" y="1934.1" width="46.15" height="403.5" fill="none" stroke="#bdbdbd" stroke-width="3.0"/>
</g>
<g>
<rect x="1496.85" y="1934.1" width="46.2" height="403.5" fill="#fff"/>
<rect x="1496.85" y="2052.78" width="46.2" height="23.74" fill="#dae6ee"/>
<rect x="1496.85" y="2123.98" width="46.2" height="23.74" fill="#f8f1ee"/>
<rect x="1496.85" y="2290.13" width="46.2" height="23.74" fill="#edf1f4"/>
<rect x="1496.85" y="2313.86" width="46.2" height="23.74" fill="#f1f4f5"/>
<rect x="1496.85" y="1934.1" width="46.2" height="403.5" fill="none" stroke="#bdbdbd" stroke-width="3.0"/>
</g>
<g>
<rect x="1550.2" y="1934.1" width="46.3" height="403.5" fill="#fff"/>
<rect x="1550.2" y="2052.78" width="46.3" height="23.74" fill="#f0f3f5"/>
<rect x="1550.2" y="2123.98" width="46.3" height="23.74" fill="#dae6ee"/>
<rect x="1550.2" y="2290.13" width="46.3" height="23.74" fill="#d5e3ed"/>
<rect x="1550.2" y="2313.86" width="46.3" height="23.74" fill="#edf1f4"/>
<rect x="1550.2" y="1934.1" width="46.3" height="403.5" fill="none" stroke="#bdbdbd" stroke-width="3.0"/>
</g>
</g>
<g>
<rect x="1218.2" y="2346.3" width="46.8" height="142.6" fill="#808080"/>
<text transform="translate(1251.2 2463.86) rotate(-90) scale(0.7889 1)" font-size="34.9" fill="#fff" stroke="#fff" stroke-width="0.3" xml:space="preserve"><tspan font-weight="bold">PUL N</tspan></text>
<g>
<rect x="1273.9" y="2346.3" width="46.45" height="142.6" fill="#fff"/>
<rect x="1273.9" y="2346.3" width="46.45" height="23.77" fill="#e8eef3"/>
<rect x="1273.9" y="2370.07" width="46.45" height="23.77" fill="#e8eef3"/>
<rect x="1273.9" y="2393.83" width="46.45" height="23.77" fill="#f4f5f6"/>
<rect x="1273.9" y="2417.6" width="46.45" height="23.77" fill="#f7f7f7"/>
<rect x="1273.9" y="2441.37" width="46.45" height="23.77" fill="#f4f5f6"/>
<rect x="1273.9" y="2465.13" width="46.45" height="23.77" fill="#f7f5f4"/>
<rect x="1273.9" y="2346.3" width="46.45" height="142.6" fill="none" stroke="#bdbdbd" stroke-width="3.0"/>
</g>
<g>
<rect x="1327.6" y="2346.3" width="46.15" height="142.6" fill="#fff"/>
<rect x="1327.6" y="2346.3" width="46.15" height="23.77" fill="#d5e3ed"/>
<rect x="1327.6" y="2370.07" width="46.15" height="23.77" fill="#d0e0eb"/>
<rect x="1327.6" y="2393.83" width="46.15" height="23.77" fill="#e3ebf1"/>
<rect x="1327.6" y="2417.6" width="46.15" height="23.77" fill="#f8f4f2"/>
<rect x="1327.6" y="2441.37" width="46.15" height="23.77" fill="#edf1f4"/>
<rect x="1327.6" y="2465.13" width="46.15" height="23.77" fill="#e8eef3"/>
<rect x="1327.6" y="2346.3" width="46.15" height="142.6" fill="none" stroke="#bdbdbd" stroke-width="3.0"/>
</g>
<g>
<rect x="1380.7" y="2346.3" width="46.4" height="142.6" fill="#fff"/>
<rect x="1380.7" y="2346.3" width="46.4" height="23.77" fill="#f9ebe6"/>
<rect x="1380.7" y="2370.07" width="46.4" height="23.77" fill="#f9e6de"/>
<rect x="1380.7" y="2393.83" width="46.4" height="23.77" fill="#f9ede8"/>
<rect x="1380.7" y="2417.6" width="46.4" height="23.77" fill="#f1f4f5"/>
<rect x="1380.7" y="2441.37" width="46.4" height="23.77" fill="#f8efec"/>
<rect x="1380.7" y="2465.13" width="46.4" height="23.77" fill="#f9e7e0"/>
<rect x="1380.7" y="2346.3" width="46.4" height="142.6" fill="none" stroke="#bdbdbd" stroke-width="3.0"/>
</g>
<g>
<rect x="1443.5" y="2346.3" width="46.15" height="142.6" fill="#fff"/>
<rect x="1443.5" y="2346.3" width="46.15" height="23.77" fill="#f3f5f6"/>
<rect x="1443.5" y="2370.07" width="46.15" height="23.77" fill="#e5edf2"/>
<rect x="1443.5" y="2441.37" width="46.15" height="23.77" fill="#eaeff3"/>
<rect x="1443.5" y="2346.3" width="46.15" height="142.6" fill="none" stroke="#bdbdbd" stroke-width="3.0"/>
</g>
<g>
<rect x="1496.85" y="2346.3" width="46.2" height="142.6" fill="#fff"/>
<rect x="1496.85" y="2346.3" width="46.2" height="23.77" fill="#f7f7f7"/>
<rect x="1496.85" y="2370.07" width="46.2" height="23.77" fill="#e3ebf1"/>
<rect x="1496.85" y="2441.37" width="46.2" height="23.77" fill="#e3ebf1"/>
<rect x="1496.85" y="2346.3" width="46.2" height="142.6" fill="none" stroke="#bdbdbd" stroke-width="3.0"/>
</g>
<g>
<rect x="1550.2" y="2346.3" width="46.3" height="142.6" fill="#fff"/>
<rect x="1550.2" y="2346.3" width="46.3" height="23.77" fill="#f3f5f6"/>
<rect x="1550.2" y="2370.07" width="46.3" height="23.77" fill="#f8f1ef"/>
<rect x="1550.2" y="2441.37" width="46.3" height="23.77" fill="#f8f1ee"/>
<rect x="1550.2" y="2346.3" width="46.3" height="142.6" fill="none" stroke="#bdbdbd" stroke-width="3.0"/>
</g>
</g>
<g>
<text transform="translate(1607.7 207.5)" font-size="27.1" font-weight="bold">Transporter</text>
<text transform="translate(1607.7 230.4)" font-size="27.1">Substrate binding</text>
<text transform="translate(1607.7 254.3) scale(0.9510 1.0000)" font-size="27.1" font-weight="bold">Hyp. protein</text>
<text transform="translate(1607.7 278.9)" font-size="27.1">S1<tspan dy="1.0">_</tspan><tspan dy="-1.0">14</tspan></text>
<text transform="translate(1607.7 303)" font-size="27.1">S1<tspan dy="1.0">_</tspan><tspan dy="-1.0">14</tspan></text>
<text transform="translate(1607.7 326.3)" font-size="27.1">S1<tspan dy="1.0">_</tspan><tspan dy="-1.0">17</tspan></text>
<text transform="translate(1607.7 349.9)" font-size="27.1">S1<tspan dy="1.0">_</tspan><tspan dy="-1.0">4</tspan></text>
<text transform="translate(1607.7 373.6)" font-size="27.1" font-weight="bold">S1<tspan dy="1.6">_</tspan><tspan dy="-1.6">23</tspan></text>
<text transform="translate(1607.7 397.4)" font-size="27.1">S1<tspan dy="1.0">_</tspan><tspan dy="-1.0">15</tspan></text>
<text transform="translate(1607.7 420.8)" font-size="27.1">GH29</text>
<text transform="translate(1607.7 444.5)" font-size="27.1" font-weight="bold">S1<tspan dy="1.6">_</tspan><tspan dy="-1.6">22</tspan></text>
<text transform="translate(1607.7 468.3)" font-size="27.1">Hyp. protein</text>
<text transform="translate(1607.7 491.7)" font-size="27.1">Hyp. protein</text>
<text transform="translate(1607.7 515.4)" font-size="27.1">GH29</text>
<text transform="translate(1607.7 538.1)" font-size="27.1">Hyp. protein</text>
<text transform="translate(1607.7 563.1)" font-size="27.1" font-weight="bold">Hyp. GH</text>
<text transform="translate(1607.7 586.3)" font-size="27.1">Regulator</text>
<text transform="translate(1607.7 610.2)" font-size="27.1">S1<tspan dy="1.0">_</tspan><tspan dy="-1.0">25</tspan></text>
<text transform="translate(1607.7 634.2)" font-size="27.1">Carb. esterase</text>
<text transform="translate(1607.7 657.9)" font-size="27.1">GH141</text>
<text transform="translate(1607.7 681.5)" font-size="27.1" font-weight="bold">Regulator</text>
<text transform="translate(1607.7 704.7)" font-size="27.1">Regulator</text>
<text transform="translate(1607.7 738.4)" font-size="27.1">Regulator</text>
<text transform="translate(1607.7 762.1)" font-size="27.1" font-weight="bold">GH168 (913<tspan dy="1.6">_</tspan><tspan dy="-1.6">01189)</tspan></text>
<text transform="translate(1607.7 785.5)" font-size="27.1" font-weight="bold">GH141</text>
<text transform="translate(1607.7 809.2)" font-size="27.1">GH29</text>
<text transform="translate(1607.7 832.8)" font-size="27.1">Hyp. GH</text>
<text transform="translate(1607.7 856.8)" font-size="27.1" font-weight="bold">GH141</text>
<text transform="translate(1607.7 879.9)" font-size="27.1">S1<tspan dy="1.0">_</tspan><tspan dy="-1.0">15</tspan></text>
<text transform="translate(1607.7 903.5)" font-size="27.1" font-weight="bold">GH107</text>
<text transform="translate(1607.7 927.8)" font-size="27.1">GH29</text>
<text transform="translate(1607.7 951.2)" font-size="27.1">GH141</text>
<text transform="translate(1607.7 974.9)" font-size="27.1">Carb. esterase</text>
<text transform="translate(1607.7 998.9)" font-size="27.1" font-weight="bold">S1<tspan dy="1.6">_</tspan><tspan dy="-1.6">17</tspan></text>
<text transform="translate(1607.7 1022.5)" font-size="27.1">GH29</text>
<text transform="translate(1607.7 1046.7)" font-size="27.1">GH29</text>
<text transform="translate(1607.7 1070.4)" font-size="27.1" font-weight="bold">Hyp. protein</text>
<text transform="translate(1607.7 1102.9)" font-size="27.1" font-weight="bold">GH95</text>
<text transform="translate(1607.7 1127.5)" font-size="27.1">Regulator</text>
<text transform="translate(1607.7 1151.5)" font-size="27.1">Hyp. GH</text>
<text transform="translate(1607.7 1175.2)" font-size="27.1" font-weight="bold">CBM32</text>
<text transform="translate(1607.7 1198.8)" font-size="27.1">Hyp. GH</text>
<text transform="translate(1607.7 1222.3)" font-size="27.1">S1<tspan dy="1.0">_</tspan><tspan dy="-1.0">15</tspan></text>
<text transform="translate(1607.7 1245.1)" font-size="27.1">S1<tspan dy="1.0">_</tspan><tspan dy="-1.0">7</tspan></text>
<text transform="translate(1607.7 1269.1)" font-size="27.1" font-weight="bold">GH29</text>
<text transform="translate(1607.7 1293)" font-size="27.1">Lipase</text>
<text transform="translate(1607.7 1316.7)" font-size="27.1">Hyp. GH</text>
<text transform="translate(1607.7 1340.5)" font-size="27.1" font-weight="bold">Hyp. GH177</text>
<text transform="translate(1607.7 1364.5)" font-size="27.1">GH29</text>
<text transform="translate(1607.7 1388.5)" font-size="27.1">S1<tspan dy="1.0">_</tspan><tspan dy="-1.0">15</tspan></text>
<text transform="translate(1607.7 1412.2)" font-size="27.1">GH141</text>
<text transform="translate(1607.7 1435.3)" font-size="27.1" font-weight="bold">GH29</text>
<text transform="translate(1607.7 1459.3)" font-size="27.1" font-weight="bold">Regulator</text>
<text transform="translate(1607.7 1482.9)" font-size="27.1">Regulator</text>
<text transform="translate(1607.7 1506.1)" font-size="27.1">Hyp. protein</text>
<text transform="translate(1607.7 1530)" font-size="27.1" font-weight="bold">Hyp. protein</text>
<text transform="translate(1607.7 1554.5)" font-size="27.1" font-weight="bold">Transporter</text>
<text transform="translate(1607.7 1587.7)" font-size="27.1">S1<tspan dy="1.0">_</tspan><tspan dy="-1.0">16</tspan></text>
<text transform="translate(1607.7 1611.7)" font-size="27.1">S1<tspan dy="1.0">_</tspan><tspan dy="-1.0">14</tspan></text>
<text transform="translate(1607.7 1635.4)" font-size="27.1" font-weight="bold">Hyp. protein</text>
<text transform="translate(1607.7 1659.1)" font-size="27.1" font-weight="bold">Regulator</text>
<text transform="translate(1607.7 1682.5)" font-size="27.1">Regulator</text>
<text transform="translate(1607.7 1705.3)" font-size="27.1">GH95</text>
<text transform="translate(1607.7 1729.3)" font-size="27.1" font-weight="bold">Hyp. GH</text>
<text transform="translate(1607.7 1753)" font-size="27.1" font-weight="bold">GH116</text>
<text transform="translate(1607.7 1777.3)" font-size="27.1">GH29</text>
<text transform="translate(1607.7 1800.9)" font-size="27.1">S1<tspan dy="1.0">_</tspan><tspan dy="-1.0">14</tspan></text>
<text transform="translate(1607.7 1824.9)" font-size="27.1">S1<tspan dy="1.0">_</tspan><tspan dy="-1.0">14</tspan></text>
<text transform="translate(1607.7 1848.6)" font-size="27.1">S1<tspan dy="1.0">_</tspan><tspan dy="-1.0">14</tspan></text>
<text transform="translate(1607.7 1872.5)" font-size="27.1" font-weight="bold">S1<tspan dy="1.6">_</tspan><tspan dy="-1.6">15</tspan></text>
<text transform="translate(1607.7 1895.7)" font-size="27.1">GH29</text>
<text transform="translate(1607.7 1919.4)" font-size="27.1">S1<tspan dy="1.0">_</tspan><tspan dy="-1.0">15</tspan></text>
<text transform="translate(1607.7 1952.4)" font-size="27.1">Oxidoreductase</text>
<text transform="translate(1607.7 1976.9)" font-size="27.1">Transposase</text>
<text transform="translate(1607.7 2000)" font-size="27.1">Oxidoreductase</text>
<text transform="translate(1607.7 2024)" font-size="27.1">S1<tspan dy="1.0">_</tspan><tspan dy="-1.0">24</tspan></text>
<text transform="translate(1607.7 2047.7)" font-size="27.1">S1<tspan dy="1.0">_</tspan><tspan dy="-1.0">8</tspan></text>
<text transform="translate(1607.7 2070.8)" font-size="27.1" font-weight="bold">Hyp. GH</text>
<text transform="translate(1607.7 2093.9)" font-size="27.1">S1<tspan dy="1.0">_</tspan><tspan dy="-1.0">19</tspan></text>
<text transform="translate(1607.7 2117.9)" font-size="27.1">S1<tspan dy="1.0">_</tspan><tspan dy="-1.0">25</tspan></text>
<text transform="translate(1607.7 2141.3)" font-size="27.1" font-weight="bold">GH29</text>
<text transform="translate(1607.7 2165.5)" font-size="27.1">S1<tspan dy="1.0">_</tspan><tspan dy="-1.0">72</tspan></text>
<text transform="translate(1607.7 2189.5)" font-size="27.1">Hyp. GH</text>
<text transform="translate(1607.7 2213.2)" font-size="27.1">GH109</text>
<text transform="translate(1607.7 2237.1)" font-size="27.1">Hyp. GH</text>
<text transform="translate(1607.7 2260.8)" font-size="27.1">Hyp. protein</text>
<text transform="translate(1607.7 2284)" font-size="27.1">Hyp. protein</text>
<text transform="translate(1607.7 2307.9)" font-size="27.1" font-weight="bold">Hyp. GH</text>
<text transform="translate(1607.7 2331.9)" font-size="27.1" font-weight="bold">Regulator</text>
<text transform="translate(1607.7 2365.7)" font-size="27.1" font-weight="bold">Transporter</text>
<text transform="translate(1607.7 2388.9)" font-size="27.1" font-weight="bold">S1<tspan dy="1.6">_</tspan><tspan dy="-1.6">16</tspan></text>
<text transform="translate(1607.7 2412.5)" font-size="27.1">GH29</text>
<text transform="translate(1607.7 2436.5)" font-size="27.1">GH95</text>
<text transform="translate(1607.7 2459.7)" font-size="27.1" font-weight="bold">Hyp<tspan dy="1.6">_</tspan><tspan dy="-1.6">GH</tspan></text>
<text transform="translate(1607.7 2483.3)" font-size="27.1">Regulator</text>
</g>
<text transform="translate(204.5 26) scale(0.9968 1.0000)" font-size="34" font-weight="bold">mRNA</text>
<text transform="translate(368.34 26) scale(0.9859 1.0000)" font-size="34" font-weight="bold">Protein</text>
<text transform="translate(1298.3 26) scale(0.9948 1.0000)" font-size="34" font-weight="bold">mRNA</text>
<text transform="translate(1460.62 26) scale(0.9930 1.0000)" font-size="34" font-weight="bold">Protein</text>
<text transform="translate(218.6 197.25) rotate(-90) scale(0.7100 1)" font-size="33.2" font-weight="bold" fill="#404040" letter-spacing="1.709" style="text-shadow:-0.2px 0px 0 #404040,0.2px 0px 0 #404040">Fuc vs. Lam</text>
<text transform="translate(272 197.07) rotate(-90) scale(0.7100 1)" font-size="33.2" font-weight="bold" fill="#404040" letter-spacing="1.870" style="text-shadow:-0.2px 0px 0 #404040,0.2px 0px 0 #404040">Undvs. Lam</text>
<text transform="translate(325.2 197.25) rotate(-90) scale(0.7100 1)" font-size="33.2" font-weight="bold" fill="#404040" letter-spacing="1.612" style="text-shadow:-0.2px 0px 0 #404040,0.2px 0px 0 #404040">Fuc vs. Und</text>
<text transform="translate(389 197.25) rotate(-90) scale(0.7100 1)" font-size="33.2" font-weight="bold" fill="#404040" letter-spacing="1.709" style="text-shadow:-0.2px 0px 0 #404040,0.2px 0px 0 #404040">Fuc vs. Lam</text>
<text transform="translate(442.3 197.07) rotate(-90) scale(0.7100 1)" font-size="33.2" font-weight="bold" fill="#404040" letter-spacing="1.663" style="text-shadow:-0.2px 0px 0 #404040,0.2px 0px 0 #404040">Und vs. Lam</text>
<text transform="translate(495.7 197.25) rotate(-90) scale(0.7100 1)" font-size="33.2" font-weight="bold" fill="#404040" letter-spacing="1.612" style="text-shadow:-0.2px 0px 0 #404040,0.2px 0px 0 #404040">Fuc vs. Und</text>
<text transform="translate(1311.62 185.62) rotate(-90) scale(0.7100 1)" font-size="32.6" font-weight="bold" fill="#404040" letter-spacing="1.386" style="text-shadow:-0.2px 0px 0 #404040,0.2px 0px 0 #404040">Fuc vs. Lam</text>
<text transform="translate(1365.17 185.45) rotate(-90) scale(0.7100 1)" font-size="32.6" font-weight="bold" fill="#404040" letter-spacing="1.393" style="text-shadow:-0.2px 0px 0 #404040,0.2px 0px 0 #404040">Und vs. Lam</text>
<text transform="translate(1418.4 185.62) rotate(-90) scale(0.7100 1)" font-size="32.6" font-weight="bold" fill="#404040" letter-spacing="1.254" style="text-shadow:-0.2px 0px 0 #404040,0.2px 0px 0 #404040">Fuc vs. Und</text>
<text transform="translate(1481.08 185.62) rotate(-90) scale(0.7100 1)" font-size="32.6" font-weight="bold" fill="#404040" letter-spacing="1.386" style="text-shadow:-0.2px 0px 0 #404040,0.2px 0px 0 #404040">Fuc vs. Lam</text>
<text transform="translate(1534.45 185.45) rotate(-90) scale(0.7100 1)" font-size="32.6" font-weight="bold" fill="#404040" letter-spacing="1.393" style="text-shadow:-0.2px 0px 0 #404040,0.2px 0px 0 #404040">Und vs. Lam</text>
<text transform="translate(1587.85 185.62) rotate(-90) scale(0.7100 1)" font-size="32.6" font-weight="bold" fill="#404040" letter-spacing="1.254" style="text-shadow:-0.2px 0px 0 #404040,0.2px 0px 0 #404040">Fuc vs. Und</text>
<text transform="translate(-1.05 32.3) scale(0.8900 1.0000)" font-size="47" font-weight="bold">a</text>
<text transform="translate(1066.54 27.9)" font-size="41" font-weight="bold">b</text>
<text transform="translate(73 1285.58) rotate(-90) scale(0.8092 1)" font-size="33.6" xml:space="preserve"><tspan font-weight="bold" font-style="italic">Rhodopirellula</tspan></text>
<text transform="translate(73 1087.32) rotate(-90) scale(0.9957 1)" font-size="33.6" xml:space="preserve"><tspan font-weight="bold" font-style="italic">gimesia</tspan></text>
<text transform="translate(73 947.57) rotate(-90) scale(0.7986 1)" font-size="33.6" xml:space="preserve"><tspan font-weight="bold">892</tspan></text>
<text transform="translate(1167 1296.57) rotate(-90) scale(0.8058 1)" font-size="33.6" xml:space="preserve"><tspan font-weight="bold" font-style="italic">Neorhodopirellula</tspan></text>
<text transform="translate(1167 1055.08) rotate(-90) scale(0.8085 1)" font-size="33.6" xml:space="preserve"><tspan font-weight="bold" font-style="italic">lusitana</tspan></text>
<text transform="translate(1167 938.17) rotate(-90) scale(0.8216 1)" font-size="33.6" xml:space="preserve"><tspan font-weight="bold">913</tspan></text>
<rect x="778" y="53.9" width="31.1" height="128.3" rx="1.5" fill="url(#lg)"/>
<rect x="779" y="58.4" width="8" height="3.2" rx="1.6" fill="#fff"/>
<rect x="800.5" y="58.4" width="8" height="3.2" rx="1.6" fill="#fff"/>
<rect x="779" y="116.2" width="8" height="3.2" rx="1.6" fill="#fff"/>
<rect x="800.5" y="116.2" width="8" height="3.2" rx="1.6" fill="#fff"/>
<rect x="779" y="174.7" width="8" height="3.2" rx="1.6" fill="#fff"/>
<rect x="800.5" y="174.7" width="8" height="3.2" rx="1.6" fill="#fff"/>
<text transform="translate(779.98 43.2) scale(0.9450 1.0000)" font-size="28.5" font-weight="bold">LFC</text>
<text transform="translate(814.61 67) scale(1.1200 1.0000)" font-size="28.5">12</text>
<text transform="translate(813.85 126.2) scale(1.1000 1.0000)" font-size="28.5">0</text>
<text transform="translate(813.69 183.6) scale(1.1300 1.0000)" font-size="28.5">−12</text>
<rect x="1876.9" y="53.9" width="31.1" height="128.3" rx="1.5" fill="url(#lg)"/>
<rect x="1877.9" y="58.4" width="8" height="3.2" rx="1.6" fill="#fff"/>
<rect x="1899.4" y="58.4" width="8" height="3.2" rx="1.6" fill="#fff"/>
<rect x="1877.9" y="116.2" width="8" height="3.2" rx="1.6" fill="#fff"/>
<rect x="1899.4" y="116.2" width="8" height="3.2" rx="1.6" fill="#fff"/>
<rect x="1877.9" y="174.7" width="8" height="3.2" rx="1.6" fill="#fff"/>
<rect x="1899.4" y="174.7" width="8" height="3.2" rx="1.6" fill="#fff"/>
<text transform="translate(1878.88 43.2) scale(0.9450 1.0000)" font-size="28.5" font-weight="bold">LFC</text>
<text transform="translate(1913.51 67) scale(1.1200 1.0000)" font-size="28.5">12</text>
<text transform="translate(1912.75 126.2) scale(1.1000 1.0000)" font-size="28.5">0</text>
<text transform="translate(1912.59 183.6) scale(1.1300 1.0000)" font-size="28.5">−12</text>
</svg>
</body>
</html>
